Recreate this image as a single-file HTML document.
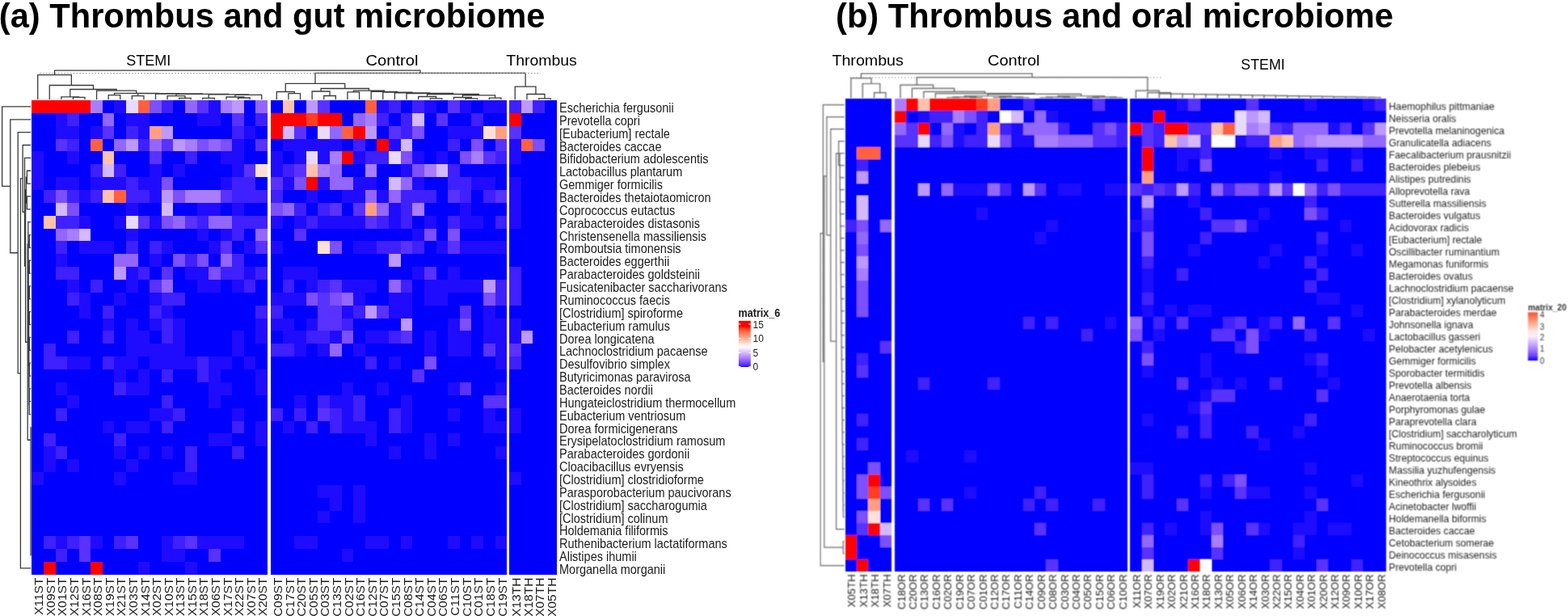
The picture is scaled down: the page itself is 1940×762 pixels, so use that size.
<!DOCTYPE html>
<html><head><meta charset="utf-8"><title>Thrombus and microbiome heatmaps</title>
<style>html,body{margin:0;padding:0;background:#fff;}svg{display:block;}</style></head>
<body>
<svg width="1940" height="762" viewBox="0 0 1940 762" font-family="'Liberation Sans', Arial, Helvetica, sans-serif">
<rect width="1940" height="762" fill="#fff"/>
<text x="-1.2" y="33.5" font-size="42.6" font-weight="700" fill="#000" textLength="675.5" lengthAdjust="spacingAndGlyphs">(a) Thrombus and gut microbiome</text>
<text x="1034.0" y="33.5" font-size="42.6" font-weight="700" fill="#000" textLength="690" lengthAdjust="spacingAndGlyphs">(b) Thrombus and oral microbiome</text>
<text x="156.3" y="81" font-size="19" fill="#000" textLength="55" lengthAdjust="spacingAndGlyphs">STEMI</text>
<text x="452.5" y="80.6" font-size="19" fill="#000" textLength="65" lengthAdjust="spacingAndGlyphs">Control</text>
<text x="626.3" y="80.6" font-size="19" fill="#000" textLength="87.5" lengthAdjust="spacingAndGlyphs">Thrombus</text>
<text x="1029.4" y="80.6" font-size="19" fill="#000" textLength="88.5" lengthAdjust="spacingAndGlyphs">Thrombus</text>
<text x="1222.0" y="80.6" font-size="19" fill="#000" textLength="64.5" lengthAdjust="spacingAndGlyphs">Control</text>
<text x="1535.3" y="86.3" font-size="19" fill="#000" textLength="54.5" lengthAdjust="spacingAndGlyphs">STEMI</text>
<g shape-rendering="crispEdges">
<rect x="39.40" y="124.00" width="291.60" height="586.82" fill="#0000ff"/>
<rect x="39.40" y="124.00" width="14.58" height="15.86" fill="#ff0000"/>
<rect x="53.98" y="124.00" width="14.58" height="15.86" fill="#ff0000"/>
<rect x="68.56" y="124.00" width="14.58" height="15.86" fill="#ff0000"/>
<rect x="83.14" y="124.00" width="14.58" height="15.86" fill="#ff0000"/>
<rect x="97.72" y="124.00" width="14.58" height="15.86" fill="#ff0000"/>
<rect x="112.30" y="124.00" width="14.58" height="15.86" fill="#a87eff"/>
<rect x="141.46" y="124.00" width="14.58" height="15.86" fill="#1f0cff"/>
<rect x="156.04" y="124.00" width="14.58" height="15.86" fill="#e9d9ff"/>
<rect x="170.62" y="124.00" width="14.58" height="15.86" fill="#ff603f"/>
<rect x="185.20" y="124.00" width="14.58" height="15.86" fill="#7c4fff"/>
<rect x="199.78" y="124.00" width="14.58" height="15.86" fill="#3f20ff"/>
<rect x="228.94" y="124.00" width="14.58" height="15.86" fill="#9367ff"/>
<rect x="243.52" y="124.00" width="14.58" height="15.86" fill="#5932ff"/>
<rect x="258.10" y="124.00" width="14.58" height="15.86" fill="#1f0cff"/>
<rect x="272.68" y="124.00" width="14.58" height="15.86" fill="#a87eff"/>
<rect x="287.26" y="124.00" width="14.58" height="15.86" fill="#bd99ff"/>
<rect x="316.42" y="124.00" width="14.58" height="15.86" fill="#9367ff"/>
<rect x="68.56" y="139.86" width="14.58" height="15.86" fill="#1f0cff"/>
<rect x="83.14" y="139.86" width="14.58" height="15.86" fill="#3f20ff"/>
<rect x="126.88" y="139.86" width="14.58" height="15.86" fill="#9367ff"/>
<rect x="156.04" y="139.86" width="14.58" height="15.86" fill="#1f0cff"/>
<rect x="170.62" y="139.86" width="14.58" height="15.86" fill="#1f0cff"/>
<rect x="243.52" y="139.86" width="14.58" height="15.86" fill="#1f0cff"/>
<rect x="258.10" y="139.86" width="14.58" height="15.86" fill="#1f0cff"/>
<rect x="287.26" y="139.86" width="14.58" height="15.86" fill="#5932ff"/>
<rect x="316.42" y="139.86" width="14.58" height="15.86" fill="#3f20ff"/>
<rect x="68.56" y="155.72" width="14.58" height="15.86" fill="#1f0cff"/>
<rect x="83.14" y="155.72" width="14.58" height="15.86" fill="#1f0cff"/>
<rect x="112.30" y="155.72" width="14.58" height="15.86" fill="#1f0cff"/>
<rect x="126.88" y="155.72" width="14.58" height="15.86" fill="#5932ff"/>
<rect x="156.04" y="155.72" width="14.58" height="15.86" fill="#3f20ff"/>
<rect x="170.62" y="155.72" width="14.58" height="15.86" fill="#1f0cff"/>
<rect x="185.20" y="155.72" width="14.58" height="15.86" fill="#ff9e81"/>
<rect x="199.78" y="155.72" width="14.58" height="15.86" fill="#bd99ff"/>
<rect x="287.26" y="155.72" width="14.58" height="15.86" fill="#3f20ff"/>
<rect x="301.84" y="155.72" width="14.58" height="15.86" fill="#1f0cff"/>
<rect x="68.56" y="171.58" width="14.58" height="15.86" fill="#5932ff"/>
<rect x="83.14" y="171.58" width="14.58" height="15.86" fill="#3f20ff"/>
<rect x="112.30" y="171.58" width="14.58" height="15.86" fill="#ff603f"/>
<rect x="141.46" y="171.58" width="14.58" height="15.86" fill="#9367ff"/>
<rect x="156.04" y="171.58" width="14.58" height="15.86" fill="#bd99ff"/>
<rect x="170.62" y="171.58" width="14.58" height="15.86" fill="#3f20ff"/>
<rect x="185.20" y="171.58" width="14.58" height="15.86" fill="#9367ff"/>
<rect x="199.78" y="171.58" width="14.58" height="15.86" fill="#5932ff"/>
<rect x="214.36" y="171.58" width="14.58" height="15.86" fill="#bd99ff"/>
<rect x="228.94" y="171.58" width="14.58" height="15.86" fill="#a87eff"/>
<rect x="243.52" y="171.58" width="14.58" height="15.86" fill="#7c4fff"/>
<rect x="258.10" y="171.58" width="14.58" height="15.86" fill="#9367ff"/>
<rect x="272.68" y="171.58" width="14.58" height="15.86" fill="#7c4fff"/>
<rect x="287.26" y="171.58" width="14.58" height="15.86" fill="#1f0cff"/>
<rect x="316.42" y="171.58" width="14.58" height="15.86" fill="#5932ff"/>
<rect x="39.40" y="187.44" width="14.58" height="15.86" fill="#1f0cff"/>
<rect x="83.14" y="187.44" width="14.58" height="15.86" fill="#1f0cff"/>
<rect x="126.88" y="187.44" width="14.58" height="15.86" fill="#ffc2ad"/>
<rect x="185.20" y="187.44" width="14.58" height="15.86" fill="#5932ff"/>
<rect x="228.94" y="187.44" width="14.58" height="15.86" fill="#3f20ff"/>
<rect x="272.68" y="187.44" width="14.58" height="15.86" fill="#1f0cff"/>
<rect x="287.26" y="187.44" width="14.58" height="15.86" fill="#1f0cff"/>
<rect x="39.40" y="203.30" width="14.58" height="15.86" fill="#1f0cff"/>
<rect x="112.30" y="203.30" width="14.58" height="15.86" fill="#3f20ff"/>
<rect x="126.88" y="203.30" width="14.58" height="15.86" fill="#d4b9ff"/>
<rect x="141.46" y="203.30" width="14.58" height="15.86" fill="#3f20ff"/>
<rect x="185.20" y="203.30" width="14.58" height="15.86" fill="#1f0cff"/>
<rect x="214.36" y="203.30" width="14.58" height="15.86" fill="#1f0cff"/>
<rect x="287.26" y="203.30" width="14.58" height="15.86" fill="#1f0cff"/>
<rect x="301.84" y="203.30" width="14.58" height="15.86" fill="#5932ff"/>
<rect x="316.42" y="203.30" width="14.58" height="15.86" fill="#ffe0d6"/>
<rect x="39.40" y="219.16" width="14.58" height="15.86" fill="#1f0cff"/>
<rect x="68.56" y="219.16" width="14.58" height="15.86" fill="#1f0cff"/>
<rect x="83.14" y="219.16" width="14.58" height="15.86" fill="#1f0cff"/>
<rect x="112.30" y="219.16" width="14.58" height="15.86" fill="#1f0cff"/>
<rect x="126.88" y="219.16" width="14.58" height="15.86" fill="#1f0cff"/>
<rect x="141.46" y="219.16" width="14.58" height="15.86" fill="#1f0cff"/>
<rect x="156.04" y="219.16" width="14.58" height="15.86" fill="#3f20ff"/>
<rect x="170.62" y="219.16" width="14.58" height="15.86" fill="#1f0cff"/>
<rect x="185.20" y="219.16" width="14.58" height="15.86" fill="#1f0cff"/>
<rect x="199.78" y="219.16" width="14.58" height="15.86" fill="#7c4fff"/>
<rect x="272.68" y="219.16" width="14.58" height="15.86" fill="#1f0cff"/>
<rect x="287.26" y="219.16" width="14.58" height="15.86" fill="#3f20ff"/>
<rect x="301.84" y="219.16" width="14.58" height="15.86" fill="#3f20ff"/>
<rect x="53.98" y="235.02" width="14.58" height="15.86" fill="#3f20ff"/>
<rect x="68.56" y="235.02" width="14.58" height="15.86" fill="#7c4fff"/>
<rect x="83.14" y="235.02" width="14.58" height="15.86" fill="#3f20ff"/>
<rect x="97.72" y="235.02" width="14.58" height="15.86" fill="#1f0cff"/>
<rect x="112.30" y="235.02" width="14.58" height="15.86" fill="#3f20ff"/>
<rect x="126.88" y="235.02" width="14.58" height="15.86" fill="#ffc2ad"/>
<rect x="141.46" y="235.02" width="14.58" height="15.86" fill="#ff603f"/>
<rect x="156.04" y="235.02" width="14.58" height="15.86" fill="#3f20ff"/>
<rect x="170.62" y="235.02" width="14.58" height="15.86" fill="#3f20ff"/>
<rect x="185.20" y="235.02" width="14.58" height="15.86" fill="#1f0cff"/>
<rect x="199.78" y="235.02" width="14.58" height="15.86" fill="#bd99ff"/>
<rect x="214.36" y="235.02" width="14.58" height="15.86" fill="#7c4fff"/>
<rect x="228.94" y="235.02" width="14.58" height="15.86" fill="#a87eff"/>
<rect x="243.52" y="235.02" width="14.58" height="15.86" fill="#a87eff"/>
<rect x="258.10" y="235.02" width="14.58" height="15.86" fill="#a87eff"/>
<rect x="272.68" y="235.02" width="14.58" height="15.86" fill="#5932ff"/>
<rect x="287.26" y="235.02" width="14.58" height="15.86" fill="#3f20ff"/>
<rect x="301.84" y="235.02" width="14.58" height="15.86" fill="#3f20ff"/>
<rect x="316.42" y="235.02" width="14.58" height="15.86" fill="#3f20ff"/>
<rect x="68.56" y="250.88" width="14.58" height="15.86" fill="#d4b9ff"/>
<rect x="83.14" y="250.88" width="14.58" height="15.86" fill="#7c4fff"/>
<rect x="156.04" y="250.88" width="14.58" height="15.86" fill="#1f0cff"/>
<rect x="199.78" y="250.88" width="14.58" height="15.86" fill="#d4b9ff"/>
<rect x="243.52" y="250.88" width="14.58" height="15.86" fill="#1f0cff"/>
<rect x="258.10" y="250.88" width="14.58" height="15.86" fill="#1f0cff"/>
<rect x="287.26" y="250.88" width="14.58" height="15.86" fill="#1f0cff"/>
<rect x="53.98" y="266.74" width="14.58" height="15.86" fill="#ffc2ad"/>
<rect x="68.56" y="266.74" width="14.58" height="15.86" fill="#3f20ff"/>
<rect x="83.14" y="266.74" width="14.58" height="15.86" fill="#3f20ff"/>
<rect x="97.72" y="266.74" width="14.58" height="15.86" fill="#1f0cff"/>
<rect x="141.46" y="266.74" width="14.58" height="15.86" fill="#1f0cff"/>
<rect x="156.04" y="266.74" width="14.58" height="15.86" fill="#e9d9ff"/>
<rect x="170.62" y="266.74" width="14.58" height="15.86" fill="#5932ff"/>
<rect x="185.20" y="266.74" width="14.58" height="15.86" fill="#1f0cff"/>
<rect x="199.78" y="266.74" width="14.58" height="15.86" fill="#7c4fff"/>
<rect x="214.36" y="266.74" width="14.58" height="15.86" fill="#9367ff"/>
<rect x="228.94" y="266.74" width="14.58" height="15.86" fill="#5932ff"/>
<rect x="243.52" y="266.74" width="14.58" height="15.86" fill="#3f20ff"/>
<rect x="258.10" y="266.74" width="14.58" height="15.86" fill="#9367ff"/>
<rect x="272.68" y="266.74" width="14.58" height="15.86" fill="#9367ff"/>
<rect x="287.26" y="266.74" width="14.58" height="15.86" fill="#3f20ff"/>
<rect x="301.84" y="266.74" width="14.58" height="15.86" fill="#3f20ff"/>
<rect x="316.42" y="266.74" width="14.58" height="15.86" fill="#3f20ff"/>
<rect x="68.56" y="282.60" width="14.58" height="15.86" fill="#9367ff"/>
<rect x="83.14" y="282.60" width="14.58" height="15.86" fill="#a87eff"/>
<rect x="97.72" y="282.60" width="14.58" height="15.86" fill="#d4b9ff"/>
<rect x="156.04" y="282.60" width="14.58" height="15.86" fill="#1f0cff"/>
<rect x="243.52" y="282.60" width="14.58" height="15.86" fill="#1f0cff"/>
<rect x="272.68" y="282.60" width="14.58" height="15.86" fill="#1f0cff"/>
<rect x="287.26" y="282.60" width="14.58" height="15.86" fill="#3f20ff"/>
<rect x="316.42" y="282.60" width="14.58" height="15.86" fill="#9367ff"/>
<rect x="68.56" y="298.46" width="14.58" height="15.86" fill="#3f20ff"/>
<rect x="97.72" y="298.46" width="14.58" height="15.86" fill="#1f0cff"/>
<rect x="112.30" y="298.46" width="14.58" height="15.86" fill="#1f0cff"/>
<rect x="126.88" y="298.46" width="14.58" height="15.86" fill="#1f0cff"/>
<rect x="156.04" y="298.46" width="14.58" height="15.86" fill="#3f20ff"/>
<rect x="185.20" y="298.46" width="14.58" height="15.86" fill="#3f20ff"/>
<rect x="199.78" y="298.46" width="14.58" height="15.86" fill="#1f0cff"/>
<rect x="258.10" y="298.46" width="14.58" height="15.86" fill="#1f0cff"/>
<rect x="272.68" y="298.46" width="14.58" height="15.86" fill="#5932ff"/>
<rect x="301.84" y="298.46" width="14.58" height="15.86" fill="#1f0cff"/>
<rect x="316.42" y="298.46" width="14.58" height="15.86" fill="#5932ff"/>
<rect x="68.56" y="314.32" width="14.58" height="15.86" fill="#1f0cff"/>
<rect x="141.46" y="314.32" width="14.58" height="15.86" fill="#9367ff"/>
<rect x="156.04" y="314.32" width="14.58" height="15.86" fill="#9367ff"/>
<rect x="185.20" y="314.32" width="14.58" height="15.86" fill="#1f0cff"/>
<rect x="214.36" y="314.32" width="14.58" height="15.86" fill="#7c4fff"/>
<rect x="228.94" y="314.32" width="14.58" height="15.86" fill="#3f20ff"/>
<rect x="243.52" y="314.32" width="14.58" height="15.86" fill="#7c4fff"/>
<rect x="272.68" y="314.32" width="14.58" height="15.86" fill="#9367ff"/>
<rect x="287.26" y="314.32" width="14.58" height="15.86" fill="#3f20ff"/>
<rect x="68.56" y="330.18" width="14.58" height="15.86" fill="#3f20ff"/>
<rect x="83.14" y="330.18" width="14.58" height="15.86" fill="#3f20ff"/>
<rect x="141.46" y="330.18" width="14.58" height="15.86" fill="#bd99ff"/>
<rect x="156.04" y="330.18" width="14.58" height="15.86" fill="#1f0cff"/>
<rect x="170.62" y="330.18" width="14.58" height="15.86" fill="#3f20ff"/>
<rect x="199.78" y="330.18" width="14.58" height="15.86" fill="#5932ff"/>
<rect x="228.94" y="330.18" width="14.58" height="15.86" fill="#1f0cff"/>
<rect x="243.52" y="330.18" width="14.58" height="15.86" fill="#1f0cff"/>
<rect x="258.10" y="330.18" width="14.58" height="15.86" fill="#7c4fff"/>
<rect x="272.68" y="330.18" width="14.58" height="15.86" fill="#3f20ff"/>
<rect x="287.26" y="330.18" width="14.58" height="15.86" fill="#3f20ff"/>
<rect x="301.84" y="330.18" width="14.58" height="15.86" fill="#1f0cff"/>
<rect x="316.42" y="330.18" width="14.58" height="15.86" fill="#3f20ff"/>
<rect x="83.14" y="346.04" width="14.58" height="15.86" fill="#1f0cff"/>
<rect x="112.30" y="346.04" width="14.58" height="15.86" fill="#3f20ff"/>
<rect x="156.04" y="346.04" width="14.58" height="15.86" fill="#1f0cff"/>
<rect x="185.20" y="346.04" width="14.58" height="15.86" fill="#5932ff"/>
<rect x="199.78" y="346.04" width="14.58" height="15.86" fill="#9367ff"/>
<rect x="243.52" y="346.04" width="14.58" height="15.86" fill="#1f0cff"/>
<rect x="258.10" y="346.04" width="14.58" height="15.86" fill="#1f0cff"/>
<rect x="287.26" y="346.04" width="14.58" height="15.86" fill="#1f0cff"/>
<rect x="301.84" y="346.04" width="14.58" height="15.86" fill="#3f20ff"/>
<rect x="83.14" y="361.90" width="14.58" height="15.86" fill="#3f20ff"/>
<rect x="97.72" y="361.90" width="14.58" height="15.86" fill="#1f0cff"/>
<rect x="141.46" y="361.90" width="14.58" height="15.86" fill="#1f0cff"/>
<rect x="185.20" y="361.90" width="14.58" height="15.86" fill="#1f0cff"/>
<rect x="199.78" y="361.90" width="14.58" height="15.86" fill="#3f20ff"/>
<rect x="214.36" y="361.90" width="14.58" height="15.86" fill="#3f20ff"/>
<rect x="97.72" y="377.76" width="14.58" height="15.86" fill="#1f0cff"/>
<rect x="126.88" y="377.76" width="14.58" height="15.86" fill="#3f20ff"/>
<rect x="185.20" y="377.76" width="14.58" height="15.86" fill="#3f20ff"/>
<rect x="199.78" y="377.76" width="14.58" height="15.86" fill="#1f0cff"/>
<rect x="316.42" y="377.76" width="14.58" height="15.86" fill="#3f20ff"/>
<rect x="126.88" y="393.62" width="14.58" height="15.86" fill="#1f0cff"/>
<rect x="156.04" y="393.62" width="14.58" height="15.86" fill="#1f0cff"/>
<rect x="185.20" y="393.62" width="14.58" height="15.86" fill="#1f0cff"/>
<rect x="199.78" y="393.62" width="14.58" height="15.86" fill="#3f20ff"/>
<rect x="214.36" y="393.62" width="14.58" height="15.86" fill="#1f0cff"/>
<rect x="316.42" y="393.62" width="14.58" height="15.86" fill="#1f0cff"/>
<rect x="83.14" y="409.48" width="14.58" height="15.86" fill="#3f20ff"/>
<rect x="126.88" y="409.48" width="14.58" height="15.86" fill="#3f20ff"/>
<rect x="156.04" y="409.48" width="14.58" height="15.86" fill="#1f0cff"/>
<rect x="170.62" y="409.48" width="14.58" height="15.86" fill="#1f0cff"/>
<rect x="199.78" y="409.48" width="14.58" height="15.86" fill="#3f20ff"/>
<rect x="214.36" y="409.48" width="14.58" height="15.86" fill="#1f0cff"/>
<rect x="287.26" y="409.48" width="14.58" height="15.86" fill="#1f0cff"/>
<rect x="316.42" y="409.48" width="14.58" height="15.86" fill="#1f0cff"/>
<rect x="53.98" y="425.34" width="14.58" height="15.86" fill="#3f20ff"/>
<rect x="156.04" y="425.34" width="14.58" height="15.86" fill="#1f0cff"/>
<rect x="170.62" y="425.34" width="14.58" height="15.86" fill="#1f0cff"/>
<rect x="185.20" y="425.34" width="14.58" height="15.86" fill="#1f0cff"/>
<rect x="199.78" y="425.34" width="14.58" height="15.86" fill="#1f0cff"/>
<rect x="214.36" y="425.34" width="14.58" height="15.86" fill="#1f0cff"/>
<rect x="287.26" y="425.34" width="14.58" height="15.86" fill="#1f0cff"/>
<rect x="53.98" y="441.20" width="14.58" height="15.86" fill="#3f20ff"/>
<rect x="68.56" y="441.20" width="14.58" height="15.86" fill="#3f20ff"/>
<rect x="83.14" y="441.20" width="14.58" height="15.86" fill="#1f0cff"/>
<rect x="97.72" y="441.20" width="14.58" height="15.86" fill="#1f0cff"/>
<rect x="126.88" y="441.20" width="14.58" height="15.86" fill="#3f20ff"/>
<rect x="141.46" y="441.20" width="14.58" height="15.86" fill="#1f0cff"/>
<rect x="156.04" y="441.20" width="14.58" height="15.86" fill="#1f0cff"/>
<rect x="185.20" y="441.20" width="14.58" height="15.86" fill="#1f0cff"/>
<rect x="199.78" y="441.20" width="14.58" height="15.86" fill="#1f0cff"/>
<rect x="214.36" y="441.20" width="14.58" height="15.86" fill="#1f0cff"/>
<rect x="228.94" y="441.20" width="14.58" height="15.86" fill="#1f0cff"/>
<rect x="243.52" y="441.20" width="14.58" height="15.86" fill="#3f20ff"/>
<rect x="258.10" y="441.20" width="14.58" height="15.86" fill="#1f0cff"/>
<rect x="272.68" y="441.20" width="14.58" height="15.86" fill="#1f0cff"/>
<rect x="301.84" y="441.20" width="14.58" height="15.86" fill="#1f0cff"/>
<rect x="141.46" y="457.06" width="14.58" height="15.86" fill="#1f0cff"/>
<rect x="170.62" y="457.06" width="14.58" height="15.86" fill="#1f0cff"/>
<rect x="199.78" y="457.06" width="14.58" height="15.86" fill="#3f20ff"/>
<rect x="243.52" y="457.06" width="14.58" height="15.86" fill="#3f20ff"/>
<rect x="258.10" y="457.06" width="14.58" height="15.86" fill="#1f0cff"/>
<rect x="316.42" y="457.06" width="14.58" height="15.86" fill="#1f0cff"/>
<rect x="68.56" y="472.92" width="14.58" height="15.86" fill="#1f0cff"/>
<rect x="141.46" y="472.92" width="14.58" height="15.86" fill="#3f20ff"/>
<rect x="156.04" y="472.92" width="14.58" height="15.86" fill="#1f0cff"/>
<rect x="170.62" y="472.92" width="14.58" height="15.86" fill="#1f0cff"/>
<rect x="258.10" y="472.92" width="14.58" height="15.86" fill="#1f0cff"/>
<rect x="272.68" y="472.92" width="14.58" height="15.86" fill="#1f0cff"/>
<rect x="316.42" y="472.92" width="14.58" height="15.86" fill="#1f0cff"/>
<rect x="83.14" y="488.78" width="14.58" height="15.86" fill="#1f0cff"/>
<rect x="199.78" y="488.78" width="14.58" height="15.86" fill="#3f20ff"/>
<rect x="258.10" y="488.78" width="14.58" height="15.86" fill="#1f0cff"/>
<rect x="68.56" y="504.64" width="14.58" height="15.86" fill="#3f20ff"/>
<rect x="185.20" y="504.64" width="14.58" height="15.86" fill="#1f0cff"/>
<rect x="199.78" y="504.64" width="14.58" height="15.86" fill="#1f0cff"/>
<rect x="214.36" y="504.64" width="14.58" height="15.86" fill="#3f20ff"/>
<rect x="287.26" y="504.64" width="14.58" height="15.86" fill="#1f0cff"/>
<rect x="126.88" y="520.50" width="14.58" height="15.86" fill="#1f0cff"/>
<rect x="156.04" y="520.50" width="14.58" height="15.86" fill="#1f0cff"/>
<rect x="170.62" y="520.50" width="14.58" height="15.86" fill="#1f0cff"/>
<rect x="199.78" y="520.50" width="14.58" height="15.86" fill="#3f20ff"/>
<rect x="287.26" y="520.50" width="14.58" height="15.86" fill="#3f20ff"/>
<rect x="316.42" y="520.50" width="14.58" height="15.86" fill="#1f0cff"/>
<rect x="53.98" y="536.36" width="14.58" height="15.86" fill="#3f20ff"/>
<rect x="141.46" y="536.36" width="14.58" height="15.86" fill="#3f20ff"/>
<rect x="258.10" y="536.36" width="14.58" height="15.86" fill="#1f0cff"/>
<rect x="272.68" y="536.36" width="14.58" height="15.86" fill="#1f0cff"/>
<rect x="316.42" y="536.36" width="14.58" height="15.86" fill="#1f0cff"/>
<rect x="53.98" y="552.22" width="14.58" height="15.86" fill="#1f0cff"/>
<rect x="68.56" y="552.22" width="14.58" height="15.86" fill="#3f20ff"/>
<rect x="141.46" y="552.22" width="14.58" height="15.86" fill="#1f0cff"/>
<rect x="170.62" y="552.22" width="14.58" height="15.86" fill="#1f0cff"/>
<rect x="199.78" y="552.22" width="14.58" height="15.86" fill="#1f0cff"/>
<rect x="228.94" y="552.22" width="14.58" height="15.86" fill="#3f20ff"/>
<rect x="287.26" y="552.22" width="14.58" height="15.86" fill="#3f20ff"/>
<rect x="53.98" y="568.08" width="14.58" height="15.86" fill="#1f0cff"/>
<rect x="83.14" y="568.08" width="14.58" height="15.86" fill="#1f0cff"/>
<rect x="156.04" y="568.08" width="14.58" height="15.86" fill="#1f0cff"/>
<rect x="228.94" y="568.08" width="14.58" height="15.86" fill="#3f20ff"/>
<rect x="39.40" y="583.94" width="14.58" height="15.86" fill="#1f0cff"/>
<rect x="141.46" y="583.94" width="14.58" height="15.86" fill="#1f0cff"/>
<rect x="214.36" y="583.94" width="14.58" height="15.86" fill="#1f0cff"/>
<rect x="228.94" y="583.94" width="14.58" height="15.86" fill="#1f0cff"/>
<rect x="53.98" y="663.24" width="14.58" height="15.86" fill="#3f20ff"/>
<rect x="68.56" y="663.24" width="14.58" height="15.86" fill="#1f0cff"/>
<rect x="83.14" y="663.24" width="14.58" height="15.86" fill="#3f20ff"/>
<rect x="97.72" y="663.24" width="14.58" height="15.86" fill="#5932ff"/>
<rect x="112.30" y="663.24" width="14.58" height="15.86" fill="#1f0cff"/>
<rect x="141.46" y="663.24" width="14.58" height="15.86" fill="#3f20ff"/>
<rect x="156.04" y="663.24" width="14.58" height="15.86" fill="#5932ff"/>
<rect x="199.78" y="663.24" width="14.58" height="15.86" fill="#1f0cff"/>
<rect x="214.36" y="663.24" width="14.58" height="15.86" fill="#3f20ff"/>
<rect x="228.94" y="663.24" width="14.58" height="15.86" fill="#5932ff"/>
<rect x="243.52" y="663.24" width="14.58" height="15.86" fill="#1f0cff"/>
<rect x="258.10" y="663.24" width="14.58" height="15.86" fill="#1f0cff"/>
<rect x="272.68" y="663.24" width="14.58" height="15.86" fill="#1f0cff"/>
<rect x="287.26" y="663.24" width="14.58" height="15.86" fill="#1f0cff"/>
<rect x="68.56" y="679.10" width="14.58" height="15.86" fill="#3f20ff"/>
<rect x="97.72" y="679.10" width="14.58" height="15.86" fill="#5932ff"/>
<rect x="199.78" y="679.10" width="14.58" height="15.86" fill="#1f0cff"/>
<rect x="214.36" y="679.10" width="14.58" height="15.86" fill="#1f0cff"/>
<rect x="258.10" y="679.10" width="14.58" height="15.86" fill="#5932ff"/>
<rect x="53.98" y="694.96" width="14.58" height="15.86" fill="#ff0000"/>
<rect x="112.30" y="694.96" width="14.58" height="15.86" fill="#ff0000"/>
<rect x="170.62" y="694.96" width="14.58" height="15.86" fill="#1f0cff"/>
<rect x="228.94" y="694.96" width="14.58" height="15.86" fill="#1f0cff"/>
<rect x="335.00" y="124.00" width="292.20" height="586.82" fill="#0000ff"/>
<rect x="349.61" y="124.00" width="14.61" height="15.86" fill="#ffc2ad"/>
<rect x="378.83" y="124.00" width="14.61" height="15.86" fill="#bd99ff"/>
<rect x="393.44" y="124.00" width="14.61" height="15.86" fill="#5932ff"/>
<rect x="451.88" y="124.00" width="14.61" height="15.86" fill="#ff603f"/>
<rect x="466.49" y="124.00" width="14.61" height="15.86" fill="#1f0cff"/>
<rect x="481.10" y="124.00" width="14.61" height="15.86" fill="#3f20ff"/>
<rect x="510.32" y="124.00" width="14.61" height="15.86" fill="#3f20ff"/>
<rect x="524.93" y="124.00" width="14.61" height="15.86" fill="#1f0cff"/>
<rect x="554.15" y="124.00" width="14.61" height="15.86" fill="#5932ff"/>
<rect x="568.76" y="124.00" width="14.61" height="15.86" fill="#1f0cff"/>
<rect x="597.98" y="124.00" width="14.61" height="15.86" fill="#1f0cff"/>
<rect x="612.59" y="124.00" width="14.61" height="15.86" fill="#1f0cff"/>
<rect x="335.00" y="139.86" width="14.61" height="15.86" fill="#ff0000"/>
<rect x="349.61" y="139.86" width="14.61" height="15.86" fill="#ff0000"/>
<rect x="364.22" y="139.86" width="14.61" height="15.86" fill="#ff0000"/>
<rect x="378.83" y="139.86" width="14.61" height="15.86" fill="#ff3e22"/>
<rect x="393.44" y="139.86" width="14.61" height="15.86" fill="#ff0000"/>
<rect x="408.05" y="139.86" width="14.61" height="15.86" fill="#ff0000"/>
<rect x="437.27" y="139.86" width="14.61" height="15.86" fill="#9367ff"/>
<rect x="451.88" y="139.86" width="14.61" height="15.86" fill="#a87eff"/>
<rect x="466.49" y="139.86" width="14.61" height="15.86" fill="#3f20ff"/>
<rect x="495.71" y="139.86" width="14.61" height="15.86" fill="#3f20ff"/>
<rect x="510.32" y="139.86" width="14.61" height="15.86" fill="#d4b9ff"/>
<rect x="539.54" y="139.86" width="14.61" height="15.86" fill="#5932ff"/>
<rect x="583.37" y="139.86" width="14.61" height="15.86" fill="#3f20ff"/>
<rect x="335.00" y="155.72" width="14.61" height="15.86" fill="#ff0000"/>
<rect x="349.61" y="155.72" width="14.61" height="15.86" fill="#d4b9ff"/>
<rect x="364.22" y="155.72" width="14.61" height="15.86" fill="#5932ff"/>
<rect x="393.44" y="155.72" width="14.61" height="15.86" fill="#e9d9ff"/>
<rect x="408.05" y="155.72" width="14.61" height="15.86" fill="#9367ff"/>
<rect x="422.66" y="155.72" width="14.61" height="15.86" fill="#ff603f"/>
<rect x="437.27" y="155.72" width="14.61" height="15.86" fill="#ff0000"/>
<rect x="451.88" y="155.72" width="14.61" height="15.86" fill="#bd99ff"/>
<rect x="481.10" y="155.72" width="14.61" height="15.86" fill="#5932ff"/>
<rect x="495.71" y="155.72" width="14.61" height="15.86" fill="#3f20ff"/>
<rect x="510.32" y="155.72" width="14.61" height="15.86" fill="#7c4fff"/>
<rect x="554.15" y="155.72" width="14.61" height="15.86" fill="#1f0cff"/>
<rect x="568.76" y="155.72" width="14.61" height="15.86" fill="#1f0cff"/>
<rect x="583.37" y="155.72" width="14.61" height="15.86" fill="#1f0cff"/>
<rect x="597.98" y="155.72" width="14.61" height="15.86" fill="#ffe0d6"/>
<rect x="612.59" y="155.72" width="14.61" height="15.86" fill="#ff9e81"/>
<rect x="349.61" y="171.58" width="14.61" height="15.86" fill="#1f0cff"/>
<rect x="364.22" y="171.58" width="14.61" height="15.86" fill="#1f0cff"/>
<rect x="378.83" y="171.58" width="14.61" height="15.86" fill="#1f0cff"/>
<rect x="393.44" y="171.58" width="14.61" height="15.86" fill="#1f0cff"/>
<rect x="408.05" y="171.58" width="14.61" height="15.86" fill="#1f0cff"/>
<rect x="437.27" y="171.58" width="14.61" height="15.86" fill="#3f20ff"/>
<rect x="466.49" y="171.58" width="14.61" height="15.86" fill="#ff0000"/>
<rect x="481.10" y="171.58" width="14.61" height="15.86" fill="#1f0cff"/>
<rect x="495.71" y="171.58" width="14.61" height="15.86" fill="#d4b9ff"/>
<rect x="554.15" y="171.58" width="14.61" height="15.86" fill="#3f20ff"/>
<rect x="583.37" y="171.58" width="14.61" height="15.86" fill="#7c4fff"/>
<rect x="612.59" y="171.58" width="14.61" height="15.86" fill="#5932ff"/>
<rect x="335.00" y="187.44" width="14.61" height="15.86" fill="#1f0cff"/>
<rect x="364.22" y="187.44" width="14.61" height="15.86" fill="#1f0cff"/>
<rect x="378.83" y="187.44" width="14.61" height="15.86" fill="#e9d9ff"/>
<rect x="393.44" y="187.44" width="14.61" height="15.86" fill="#1f0cff"/>
<rect x="408.05" y="187.44" width="14.61" height="15.86" fill="#a87eff"/>
<rect x="422.66" y="187.44" width="14.61" height="15.86" fill="#ff0000"/>
<rect x="437.27" y="187.44" width="14.61" height="15.86" fill="#1f0cff"/>
<rect x="451.88" y="187.44" width="14.61" height="15.86" fill="#3f20ff"/>
<rect x="466.49" y="187.44" width="14.61" height="15.86" fill="#3f20ff"/>
<rect x="481.10" y="187.44" width="14.61" height="15.86" fill="#e9d9ff"/>
<rect x="495.71" y="187.44" width="14.61" height="15.86" fill="#7c4fff"/>
<rect x="510.32" y="187.44" width="14.61" height="15.86" fill="#1f0cff"/>
<rect x="539.54" y="187.44" width="14.61" height="15.86" fill="#1f0cff"/>
<rect x="568.76" y="187.44" width="14.61" height="15.86" fill="#7c4fff"/>
<rect x="583.37" y="187.44" width="14.61" height="15.86" fill="#a87eff"/>
<rect x="597.98" y="187.44" width="14.61" height="15.86" fill="#5932ff"/>
<rect x="612.59" y="187.44" width="14.61" height="15.86" fill="#3f20ff"/>
<rect x="335.00" y="203.30" width="14.61" height="15.86" fill="#1f0cff"/>
<rect x="349.61" y="203.30" width="14.61" height="15.86" fill="#3f20ff"/>
<rect x="364.22" y="203.30" width="14.61" height="15.86" fill="#5932ff"/>
<rect x="378.83" y="203.30" width="14.61" height="15.86" fill="#ffc2ad"/>
<rect x="393.44" y="203.30" width="14.61" height="15.86" fill="#a87eff"/>
<rect x="408.05" y="203.30" width="14.61" height="15.86" fill="#9367ff"/>
<rect x="451.88" y="203.30" width="14.61" height="15.86" fill="#a87eff"/>
<rect x="495.71" y="203.30" width="14.61" height="15.86" fill="#1f0cff"/>
<rect x="510.32" y="203.30" width="14.61" height="15.86" fill="#7c4fff"/>
<rect x="524.93" y="203.30" width="14.61" height="15.86" fill="#a87eff"/>
<rect x="539.54" y="203.30" width="14.61" height="15.86" fill="#d4b9ff"/>
<rect x="554.15" y="203.30" width="14.61" height="15.86" fill="#3f20ff"/>
<rect x="335.00" y="219.16" width="14.61" height="15.86" fill="#5932ff"/>
<rect x="349.61" y="219.16" width="14.61" height="15.86" fill="#1f0cff"/>
<rect x="364.22" y="219.16" width="14.61" height="15.86" fill="#7c4fff"/>
<rect x="378.83" y="219.16" width="14.61" height="15.86" fill="#ff0000"/>
<rect x="393.44" y="219.16" width="14.61" height="15.86" fill="#1f0cff"/>
<rect x="408.05" y="219.16" width="14.61" height="15.86" fill="#9367ff"/>
<rect x="422.66" y="219.16" width="14.61" height="15.86" fill="#9367ff"/>
<rect x="437.27" y="219.16" width="14.61" height="15.86" fill="#1f0cff"/>
<rect x="451.88" y="219.16" width="14.61" height="15.86" fill="#1f0cff"/>
<rect x="481.10" y="219.16" width="14.61" height="15.86" fill="#d4b9ff"/>
<rect x="495.71" y="219.16" width="14.61" height="15.86" fill="#9367ff"/>
<rect x="510.32" y="219.16" width="14.61" height="15.86" fill="#1f0cff"/>
<rect x="554.15" y="219.16" width="14.61" height="15.86" fill="#3f20ff"/>
<rect x="568.76" y="219.16" width="14.61" height="15.86" fill="#3f20ff"/>
<rect x="583.37" y="219.16" width="14.61" height="15.86" fill="#1f0cff"/>
<rect x="597.98" y="219.16" width="14.61" height="15.86" fill="#1f0cff"/>
<rect x="335.00" y="235.02" width="14.61" height="15.86" fill="#3f20ff"/>
<rect x="378.83" y="235.02" width="14.61" height="15.86" fill="#1f0cff"/>
<rect x="422.66" y="235.02" width="14.61" height="15.86" fill="#1f0cff"/>
<rect x="437.27" y="235.02" width="14.61" height="15.86" fill="#1f0cff"/>
<rect x="451.88" y="235.02" width="14.61" height="15.86" fill="#9367ff"/>
<rect x="466.49" y="235.02" width="14.61" height="15.86" fill="#1f0cff"/>
<rect x="481.10" y="235.02" width="14.61" height="15.86" fill="#9367ff"/>
<rect x="495.71" y="235.02" width="14.61" height="15.86" fill="#3f20ff"/>
<rect x="510.32" y="235.02" width="14.61" height="15.86" fill="#3f20ff"/>
<rect x="524.93" y="235.02" width="14.61" height="15.86" fill="#3f20ff"/>
<rect x="554.15" y="235.02" width="14.61" height="15.86" fill="#5932ff"/>
<rect x="568.76" y="235.02" width="14.61" height="15.86" fill="#3f20ff"/>
<rect x="597.98" y="235.02" width="14.61" height="15.86" fill="#3f20ff"/>
<rect x="612.59" y="235.02" width="14.61" height="15.86" fill="#5932ff"/>
<rect x="335.00" y="250.88" width="14.61" height="15.86" fill="#7c4fff"/>
<rect x="349.61" y="250.88" width="14.61" height="15.86" fill="#9367ff"/>
<rect x="364.22" y="250.88" width="14.61" height="15.86" fill="#3f20ff"/>
<rect x="393.44" y="250.88" width="14.61" height="15.86" fill="#3f20ff"/>
<rect x="408.05" y="250.88" width="14.61" height="15.86" fill="#5932ff"/>
<rect x="437.27" y="250.88" width="14.61" height="15.86" fill="#5932ff"/>
<rect x="451.88" y="250.88" width="14.61" height="15.86" fill="#ff9e81"/>
<rect x="466.49" y="250.88" width="14.61" height="15.86" fill="#9367ff"/>
<rect x="481.10" y="250.88" width="14.61" height="15.86" fill="#1f0cff"/>
<rect x="495.71" y="250.88" width="14.61" height="15.86" fill="#3f20ff"/>
<rect x="510.32" y="250.88" width="14.61" height="15.86" fill="#a87eff"/>
<rect x="568.76" y="250.88" width="14.61" height="15.86" fill="#1f0cff"/>
<rect x="335.00" y="266.74" width="14.61" height="15.86" fill="#1f0cff"/>
<rect x="364.22" y="266.74" width="14.61" height="15.86" fill="#1f0cff"/>
<rect x="378.83" y="266.74" width="14.61" height="15.86" fill="#3f20ff"/>
<rect x="393.44" y="266.74" width="14.61" height="15.86" fill="#1f0cff"/>
<rect x="408.05" y="266.74" width="14.61" height="15.86" fill="#1f0cff"/>
<rect x="422.66" y="266.74" width="14.61" height="15.86" fill="#1f0cff"/>
<rect x="437.27" y="266.74" width="14.61" height="15.86" fill="#1f0cff"/>
<rect x="451.88" y="266.74" width="14.61" height="15.86" fill="#5932ff"/>
<rect x="466.49" y="266.74" width="14.61" height="15.86" fill="#3f20ff"/>
<rect x="481.10" y="266.74" width="14.61" height="15.86" fill="#1f0cff"/>
<rect x="495.71" y="266.74" width="14.61" height="15.86" fill="#3f20ff"/>
<rect x="524.93" y="266.74" width="14.61" height="15.86" fill="#1f0cff"/>
<rect x="554.15" y="266.74" width="14.61" height="15.86" fill="#3f20ff"/>
<rect x="568.76" y="266.74" width="14.61" height="15.86" fill="#1f0cff"/>
<rect x="583.37" y="266.74" width="14.61" height="15.86" fill="#1f0cff"/>
<rect x="612.59" y="266.74" width="14.61" height="15.86" fill="#3f20ff"/>
<rect x="364.22" y="282.60" width="14.61" height="15.86" fill="#5932ff"/>
<rect x="510.32" y="282.60" width="14.61" height="15.86" fill="#1f0cff"/>
<rect x="524.93" y="282.60" width="14.61" height="15.86" fill="#7c4fff"/>
<rect x="554.15" y="282.60" width="14.61" height="15.86" fill="#7c4fff"/>
<rect x="335.00" y="298.46" width="14.61" height="15.86" fill="#1f0cff"/>
<rect x="393.44" y="298.46" width="14.61" height="15.86" fill="#ffe0d6"/>
<rect x="408.05" y="298.46" width="14.61" height="15.86" fill="#7c4fff"/>
<rect x="437.27" y="298.46" width="14.61" height="15.86" fill="#1f0cff"/>
<rect x="451.88" y="298.46" width="14.61" height="15.86" fill="#1f0cff"/>
<rect x="466.49" y="298.46" width="14.61" height="15.86" fill="#3f20ff"/>
<rect x="481.10" y="298.46" width="14.61" height="15.86" fill="#3f20ff"/>
<rect x="495.71" y="298.46" width="14.61" height="15.86" fill="#5932ff"/>
<rect x="510.32" y="298.46" width="14.61" height="15.86" fill="#3f20ff"/>
<rect x="539.54" y="298.46" width="14.61" height="15.86" fill="#1f0cff"/>
<rect x="554.15" y="298.46" width="14.61" height="15.86" fill="#5932ff"/>
<rect x="568.76" y="298.46" width="14.61" height="15.86" fill="#1f0cff"/>
<rect x="583.37" y="298.46" width="14.61" height="15.86" fill="#1f0cff"/>
<rect x="597.98" y="298.46" width="14.61" height="15.86" fill="#1f0cff"/>
<rect x="612.59" y="298.46" width="14.61" height="15.86" fill="#1f0cff"/>
<rect x="481.10" y="314.32" width="14.61" height="15.86" fill="#bd99ff"/>
<rect x="349.61" y="330.18" width="14.61" height="15.86" fill="#1f0cff"/>
<rect x="364.22" y="330.18" width="14.61" height="15.86" fill="#1f0cff"/>
<rect x="378.83" y="330.18" width="14.61" height="15.86" fill="#1f0cff"/>
<rect x="510.32" y="330.18" width="14.61" height="15.86" fill="#1f0cff"/>
<rect x="524.93" y="330.18" width="14.61" height="15.86" fill="#5932ff"/>
<rect x="554.15" y="330.18" width="14.61" height="15.86" fill="#1f0cff"/>
<rect x="349.61" y="346.04" width="14.61" height="15.86" fill="#3f20ff"/>
<rect x="378.83" y="346.04" width="14.61" height="15.86" fill="#1f0cff"/>
<rect x="393.44" y="346.04" width="14.61" height="15.86" fill="#3f20ff"/>
<rect x="408.05" y="346.04" width="14.61" height="15.86" fill="#5932ff"/>
<rect x="422.66" y="346.04" width="14.61" height="15.86" fill="#1f0cff"/>
<rect x="437.27" y="346.04" width="14.61" height="15.86" fill="#1f0cff"/>
<rect x="451.88" y="346.04" width="14.61" height="15.86" fill="#1f0cff"/>
<rect x="481.10" y="346.04" width="14.61" height="15.86" fill="#9367ff"/>
<rect x="495.71" y="346.04" width="14.61" height="15.86" fill="#3f20ff"/>
<rect x="524.93" y="346.04" width="14.61" height="15.86" fill="#1f0cff"/>
<rect x="539.54" y="346.04" width="14.61" height="15.86" fill="#1f0cff"/>
<rect x="554.15" y="346.04" width="14.61" height="15.86" fill="#1f0cff"/>
<rect x="568.76" y="346.04" width="14.61" height="15.86" fill="#1f0cff"/>
<rect x="583.37" y="346.04" width="14.61" height="15.86" fill="#1f0cff"/>
<rect x="597.98" y="346.04" width="14.61" height="15.86" fill="#bd99ff"/>
<rect x="612.59" y="346.04" width="14.61" height="15.86" fill="#3f20ff"/>
<rect x="335.00" y="361.90" width="14.61" height="15.86" fill="#1f0cff"/>
<rect x="349.61" y="361.90" width="14.61" height="15.86" fill="#1f0cff"/>
<rect x="364.22" y="361.90" width="14.61" height="15.86" fill="#1f0cff"/>
<rect x="378.83" y="361.90" width="14.61" height="15.86" fill="#7c4fff"/>
<rect x="393.44" y="361.90" width="14.61" height="15.86" fill="#5932ff"/>
<rect x="408.05" y="361.90" width="14.61" height="15.86" fill="#7c4fff"/>
<rect x="422.66" y="361.90" width="14.61" height="15.86" fill="#9367ff"/>
<rect x="437.27" y="361.90" width="14.61" height="15.86" fill="#1f0cff"/>
<rect x="481.10" y="361.90" width="14.61" height="15.86" fill="#1f0cff"/>
<rect x="495.71" y="361.90" width="14.61" height="15.86" fill="#1f0cff"/>
<rect x="524.93" y="361.90" width="14.61" height="15.86" fill="#1f0cff"/>
<rect x="539.54" y="361.90" width="14.61" height="15.86" fill="#1f0cff"/>
<rect x="597.98" y="361.90" width="14.61" height="15.86" fill="#7c4fff"/>
<rect x="612.59" y="361.90" width="14.61" height="15.86" fill="#3f20ff"/>
<rect x="335.00" y="377.76" width="14.61" height="15.86" fill="#3f20ff"/>
<rect x="393.44" y="377.76" width="14.61" height="15.86" fill="#5932ff"/>
<rect x="408.05" y="377.76" width="14.61" height="15.86" fill="#5932ff"/>
<rect x="422.66" y="377.76" width="14.61" height="15.86" fill="#1f0cff"/>
<rect x="437.27" y="377.76" width="14.61" height="15.86" fill="#3f20ff"/>
<rect x="451.88" y="377.76" width="14.61" height="15.86" fill="#bd99ff"/>
<rect x="466.49" y="377.76" width="14.61" height="15.86" fill="#5932ff"/>
<rect x="481.10" y="377.76" width="14.61" height="15.86" fill="#1f0cff"/>
<rect x="495.71" y="377.76" width="14.61" height="15.86" fill="#1f0cff"/>
<rect x="568.76" y="377.76" width="14.61" height="15.86" fill="#5932ff"/>
<rect x="597.98" y="377.76" width="14.61" height="15.86" fill="#1f0cff"/>
<rect x="335.00" y="393.62" width="14.61" height="15.86" fill="#1f0cff"/>
<rect x="349.61" y="393.62" width="14.61" height="15.86" fill="#1f0cff"/>
<rect x="378.83" y="393.62" width="14.61" height="15.86" fill="#1f0cff"/>
<rect x="393.44" y="393.62" width="14.61" height="15.86" fill="#5932ff"/>
<rect x="408.05" y="393.62" width="14.61" height="15.86" fill="#5932ff"/>
<rect x="422.66" y="393.62" width="14.61" height="15.86" fill="#3f20ff"/>
<rect x="495.71" y="393.62" width="14.61" height="15.86" fill="#bd99ff"/>
<rect x="554.15" y="393.62" width="14.61" height="15.86" fill="#1f0cff"/>
<rect x="568.76" y="393.62" width="14.61" height="15.86" fill="#7c4fff"/>
<rect x="597.98" y="393.62" width="14.61" height="15.86" fill="#1f0cff"/>
<rect x="612.59" y="393.62" width="14.61" height="15.86" fill="#1f0cff"/>
<rect x="349.61" y="409.48" width="14.61" height="15.86" fill="#1f0cff"/>
<rect x="364.22" y="409.48" width="14.61" height="15.86" fill="#1f0cff"/>
<rect x="378.83" y="409.48" width="14.61" height="15.86" fill="#3f20ff"/>
<rect x="393.44" y="409.48" width="14.61" height="15.86" fill="#3f20ff"/>
<rect x="408.05" y="409.48" width="14.61" height="15.86" fill="#1f0cff"/>
<rect x="422.66" y="409.48" width="14.61" height="15.86" fill="#7c4fff"/>
<rect x="451.88" y="409.48" width="14.61" height="15.86" fill="#1f0cff"/>
<rect x="466.49" y="409.48" width="14.61" height="15.86" fill="#1f0cff"/>
<rect x="481.10" y="409.48" width="14.61" height="15.86" fill="#3f20ff"/>
<rect x="495.71" y="409.48" width="14.61" height="15.86" fill="#5932ff"/>
<rect x="524.93" y="409.48" width="14.61" height="15.86" fill="#1f0cff"/>
<rect x="554.15" y="409.48" width="14.61" height="15.86" fill="#1f0cff"/>
<rect x="568.76" y="409.48" width="14.61" height="15.86" fill="#1f0cff"/>
<rect x="597.98" y="409.48" width="14.61" height="15.86" fill="#1f0cff"/>
<rect x="612.59" y="409.48" width="14.61" height="15.86" fill="#1f0cff"/>
<rect x="335.00" y="425.34" width="14.61" height="15.86" fill="#3f20ff"/>
<rect x="349.61" y="425.34" width="14.61" height="15.86" fill="#3f20ff"/>
<rect x="364.22" y="425.34" width="14.61" height="15.86" fill="#1f0cff"/>
<rect x="393.44" y="425.34" width="14.61" height="15.86" fill="#1f0cff"/>
<rect x="408.05" y="425.34" width="14.61" height="15.86" fill="#9367ff"/>
<rect x="437.27" y="425.34" width="14.61" height="15.86" fill="#1f0cff"/>
<rect x="524.93" y="425.34" width="14.61" height="15.86" fill="#1f0cff"/>
<rect x="554.15" y="425.34" width="14.61" height="15.86" fill="#1f0cff"/>
<rect x="568.76" y="425.34" width="14.61" height="15.86" fill="#1f0cff"/>
<rect x="597.98" y="425.34" width="14.61" height="15.86" fill="#5932ff"/>
<rect x="612.59" y="425.34" width="14.61" height="15.86" fill="#1f0cff"/>
<rect x="451.88" y="441.20" width="14.61" height="15.86" fill="#3f20ff"/>
<rect x="481.10" y="441.20" width="14.61" height="15.86" fill="#1f0cff"/>
<rect x="524.93" y="441.20" width="14.61" height="15.86" fill="#7c4fff"/>
<rect x="612.59" y="441.20" width="14.61" height="15.86" fill="#1f0cff"/>
<rect x="510.32" y="457.06" width="14.61" height="15.86" fill="#5932ff"/>
<rect x="422.66" y="472.92" width="14.61" height="15.86" fill="#1f0cff"/>
<rect x="466.49" y="472.92" width="14.61" height="15.86" fill="#1f0cff"/>
<rect x="554.15" y="472.92" width="14.61" height="15.86" fill="#1f0cff"/>
<rect x="568.76" y="472.92" width="14.61" height="15.86" fill="#5932ff"/>
<rect x="612.59" y="472.92" width="14.61" height="15.86" fill="#1f0cff"/>
<rect x="364.22" y="488.78" width="14.61" height="15.86" fill="#1f0cff"/>
<rect x="393.44" y="488.78" width="14.61" height="15.86" fill="#3f20ff"/>
<rect x="408.05" y="488.78" width="14.61" height="15.86" fill="#1f0cff"/>
<rect x="422.66" y="488.78" width="14.61" height="15.86" fill="#1f0cff"/>
<rect x="437.27" y="488.78" width="14.61" height="15.86" fill="#3f20ff"/>
<rect x="495.71" y="488.78" width="14.61" height="15.86" fill="#1f0cff"/>
<rect x="597.98" y="488.78" width="14.61" height="15.86" fill="#5932ff"/>
<rect x="612.59" y="488.78" width="14.61" height="15.86" fill="#5932ff"/>
<rect x="335.00" y="504.64" width="14.61" height="15.86" fill="#3f20ff"/>
<rect x="364.22" y="504.64" width="14.61" height="15.86" fill="#3f20ff"/>
<rect x="393.44" y="504.64" width="14.61" height="15.86" fill="#5932ff"/>
<rect x="408.05" y="504.64" width="14.61" height="15.86" fill="#3f20ff"/>
<rect x="422.66" y="504.64" width="14.61" height="15.86" fill="#1f0cff"/>
<rect x="437.27" y="504.64" width="14.61" height="15.86" fill="#3f20ff"/>
<rect x="481.10" y="504.64" width="14.61" height="15.86" fill="#3f20ff"/>
<rect x="495.71" y="504.64" width="14.61" height="15.86" fill="#1f0cff"/>
<rect x="554.15" y="504.64" width="14.61" height="15.86" fill="#1f0cff"/>
<rect x="597.98" y="504.64" width="14.61" height="15.86" fill="#1f0cff"/>
<rect x="349.61" y="520.50" width="14.61" height="15.86" fill="#1f0cff"/>
<rect x="378.83" y="520.50" width="14.61" height="15.86" fill="#3f20ff"/>
<rect x="408.05" y="520.50" width="14.61" height="15.86" fill="#3f20ff"/>
<rect x="422.66" y="520.50" width="14.61" height="15.86" fill="#1f0cff"/>
<rect x="437.27" y="520.50" width="14.61" height="15.86" fill="#1f0cff"/>
<rect x="451.88" y="520.50" width="14.61" height="15.86" fill="#1f0cff"/>
<rect x="481.10" y="520.50" width="14.61" height="15.86" fill="#3f20ff"/>
<rect x="495.71" y="520.50" width="14.61" height="15.86" fill="#1f0cff"/>
<rect x="597.98" y="520.50" width="14.61" height="15.86" fill="#1f0cff"/>
<rect x="612.59" y="520.50" width="14.61" height="15.86" fill="#1f0cff"/>
<rect x="451.88" y="536.36" width="14.61" height="15.86" fill="#1f0cff"/>
<rect x="524.93" y="536.36" width="14.61" height="15.86" fill="#1f0cff"/>
<rect x="554.15" y="536.36" width="14.61" height="15.86" fill="#1f0cff"/>
<rect x="481.10" y="552.22" width="14.61" height="15.86" fill="#1f0cff"/>
<rect x="524.93" y="552.22" width="14.61" height="15.86" fill="#1f0cff"/>
<rect x="612.59" y="552.22" width="14.61" height="15.86" fill="#1f0cff"/>
<rect x="393.44" y="599.80" width="14.61" height="15.86" fill="#1f0cff"/>
<rect x="408.05" y="599.80" width="14.61" height="15.86" fill="#1f0cff"/>
<rect x="437.27" y="599.80" width="14.61" height="15.86" fill="#1f0cff"/>
<rect x="408.05" y="615.66" width="14.61" height="15.86" fill="#1f0cff"/>
<rect x="437.27" y="615.66" width="14.61" height="15.86" fill="#1f0cff"/>
<rect x="393.44" y="631.52" width="14.61" height="15.86" fill="#1f0cff"/>
<rect x="437.27" y="631.52" width="14.61" height="15.86" fill="#1f0cff"/>
<rect x="364.22" y="663.24" width="14.61" height="15.86" fill="#1f0cff"/>
<rect x="378.83" y="663.24" width="14.61" height="15.86" fill="#1f0cff"/>
<rect x="451.88" y="663.24" width="14.61" height="15.86" fill="#1f0cff"/>
<rect x="466.49" y="663.24" width="14.61" height="15.86" fill="#1f0cff"/>
<rect x="495.71" y="663.24" width="14.61" height="15.86" fill="#1f0cff"/>
<rect x="554.15" y="663.24" width="14.61" height="15.86" fill="#1f0cff"/>
<rect x="583.37" y="663.24" width="14.61" height="15.86" fill="#1f0cff"/>
<rect x="612.59" y="663.24" width="14.61" height="15.86" fill="#1f0cff"/>
<rect x="422.66" y="679.10" width="14.61" height="15.86" fill="#1f0cff"/>
<rect x="629.90" y="124.00" width="58.72" height="586.82" fill="#0000ff"/>
<rect x="629.90" y="124.00" width="14.68" height="15.86" fill="#3f20ff"/>
<rect x="644.58" y="124.00" width="14.68" height="15.86" fill="#bd99ff"/>
<rect x="659.26" y="124.00" width="14.68" height="15.86" fill="#3f20ff"/>
<rect x="629.90" y="139.86" width="14.68" height="15.86" fill="#ff0000"/>
<rect x="629.90" y="155.72" width="14.68" height="15.86" fill="#5932ff"/>
<rect x="629.90" y="171.58" width="14.68" height="15.86" fill="#1f0cff"/>
<rect x="644.58" y="171.58" width="14.68" height="15.86" fill="#ff603f"/>
<rect x="659.26" y="171.58" width="14.68" height="15.86" fill="#7c4fff"/>
<rect x="629.90" y="187.44" width="14.68" height="15.86" fill="#1f0cff"/>
<rect x="629.90" y="219.16" width="14.68" height="15.86" fill="#1f0cff"/>
<rect x="629.90" y="235.02" width="14.68" height="15.86" fill="#1f0cff"/>
<rect x="629.90" y="250.88" width="14.68" height="15.86" fill="#1f0cff"/>
<rect x="629.90" y="266.74" width="14.68" height="15.86" fill="#1f0cff"/>
<rect x="629.90" y="330.18" width="14.68" height="15.86" fill="#3f20ff"/>
<rect x="629.90" y="346.04" width="14.68" height="15.86" fill="#3f20ff"/>
<rect x="629.90" y="361.90" width="14.68" height="15.86" fill="#3f20ff"/>
<rect x="629.90" y="393.62" width="14.68" height="15.86" fill="#1f0cff"/>
<rect x="629.90" y="409.48" width="14.68" height="15.86" fill="#1f0cff"/>
<rect x="644.58" y="409.48" width="14.68" height="15.86" fill="#bd99ff"/>
<rect x="629.90" y="425.34" width="14.68" height="15.86" fill="#5932ff"/>
<rect x="629.90" y="441.20" width="14.68" height="15.86" fill="#3f20ff"/>
<rect x="629.90" y="504.64" width="14.68" height="15.86" fill="#1f0cff"/>
<rect x="629.90" y="520.50" width="14.68" height="15.86" fill="#1f0cff"/>
<rect x="629.90" y="583.94" width="14.68" height="15.86" fill="#1f0cff"/>
</g>
<defs><filter id="bl" x="-2%" y="-2%" width="104%" height="104%"><feConvolveMatrix order="3" kernelMatrix="1 2 1 2 4 2 1 2 1" divisor="16" edgeMode="none" preserveAlpha="false"/></filter></defs>
<g shape-rendering="crispEdges" filter="url(#bl)">
<rect x="1045.70" y="122.20" width="57.40" height="585.00" fill="#0000ff"/>
<rect x="1060.05" y="182.20" width="14.35" height="15.00" fill="#ff603f"/>
<rect x="1074.40" y="182.20" width="14.35" height="15.00" fill="#ff603f"/>
<rect x="1060.05" y="197.20" width="14.35" height="15.00" fill="#3f20ff"/>
<rect x="1060.05" y="212.20" width="14.35" height="15.00" fill="#bd99ff"/>
<rect x="1060.05" y="242.20" width="14.35" height="15.00" fill="#d4b9ff"/>
<rect x="1060.05" y="257.20" width="14.35" height="15.00" fill="#d4b9ff"/>
<rect x="1045.70" y="272.20" width="14.35" height="15.00" fill="#3f20ff"/>
<rect x="1060.05" y="272.20" width="14.35" height="15.00" fill="#7c4fff"/>
<rect x="1088.75" y="272.20" width="14.35" height="15.00" fill="#9367ff"/>
<rect x="1060.05" y="287.20" width="14.35" height="15.00" fill="#9367ff"/>
<rect x="1060.05" y="302.20" width="14.35" height="15.00" fill="#7c4fff"/>
<rect x="1060.05" y="317.20" width="14.35" height="15.00" fill="#bd99ff"/>
<rect x="1060.05" y="332.20" width="14.35" height="15.00" fill="#a87eff"/>
<rect x="1060.05" y="347.20" width="14.35" height="15.00" fill="#7c4fff"/>
<rect x="1060.05" y="362.20" width="14.35" height="15.00" fill="#7c4fff"/>
<rect x="1060.05" y="377.20" width="14.35" height="15.00" fill="#7c4fff"/>
<rect x="1088.75" y="422.20" width="14.35" height="15.00" fill="#5932ff"/>
<rect x="1060.05" y="437.20" width="14.35" height="15.00" fill="#3f20ff"/>
<rect x="1060.05" y="452.20" width="14.35" height="15.00" fill="#5932ff"/>
<rect x="1060.05" y="512.20" width="14.35" height="15.00" fill="#3f20ff"/>
<rect x="1060.05" y="542.20" width="14.35" height="15.00" fill="#3f20ff"/>
<rect x="1074.40" y="572.20" width="14.35" height="15.00" fill="#7c4fff"/>
<rect x="1060.05" y="587.20" width="14.35" height="15.00" fill="#7c4fff"/>
<rect x="1074.40" y="587.20" width="14.35" height="15.00" fill="#ff0000"/>
<rect x="1060.05" y="602.20" width="14.35" height="15.00" fill="#7c4fff"/>
<rect x="1074.40" y="602.20" width="14.35" height="15.00" fill="#ff3e22"/>
<rect x="1088.75" y="602.20" width="14.35" height="15.00" fill="#7c4fff"/>
<rect x="1074.40" y="617.20" width="14.35" height="15.00" fill="#ff9e81"/>
<rect x="1060.05" y="632.20" width="14.35" height="15.00" fill="#7c4fff"/>
<rect x="1074.40" y="632.20" width="14.35" height="15.00" fill="#ffe0d6"/>
<rect x="1060.05" y="647.20" width="14.35" height="15.00" fill="#5932ff"/>
<rect x="1074.40" y="647.20" width="14.35" height="15.00" fill="#ff0000"/>
<rect x="1088.75" y="647.20" width="14.35" height="15.00" fill="#d4b9ff"/>
<rect x="1045.70" y="662.20" width="14.35" height="15.00" fill="#ff0000"/>
<rect x="1088.75" y="662.20" width="14.35" height="15.00" fill="#7c4fff"/>
<rect x="1045.70" y="677.20" width="14.35" height="15.00" fill="#ff0000"/>
<rect x="1060.05" y="692.20" width="14.35" height="15.00" fill="#ff0000"/>
<rect x="1106.80" y="122.20" width="288.60" height="585.00" fill="#0000ff"/>
<rect x="1106.80" y="122.20" width="14.43" height="15.00" fill="#a87eff"/>
<rect x="1121.23" y="122.20" width="14.43" height="15.00" fill="#ff0000"/>
<rect x="1135.66" y="122.20" width="14.43" height="15.00" fill="#ffc2ad"/>
<rect x="1150.09" y="122.20" width="14.43" height="15.00" fill="#ff0000"/>
<rect x="1164.52" y="122.20" width="14.43" height="15.00" fill="#ff0000"/>
<rect x="1178.95" y="122.20" width="14.43" height="15.00" fill="#ff0000"/>
<rect x="1193.38" y="122.20" width="14.43" height="15.00" fill="#ff0000"/>
<rect x="1207.81" y="122.20" width="14.43" height="15.00" fill="#ff3e22"/>
<rect x="1222.24" y="122.20" width="14.43" height="15.00" fill="#ff9e81"/>
<rect x="1265.53" y="122.20" width="14.43" height="15.00" fill="#3f20ff"/>
<rect x="1352.11" y="122.20" width="14.43" height="15.00" fill="#5932ff"/>
<rect x="1106.80" y="137.20" width="14.43" height="15.00" fill="#ff0000"/>
<rect x="1135.66" y="137.20" width="14.43" height="15.00" fill="#1f0cff"/>
<rect x="1150.09" y="137.20" width="14.43" height="15.00" fill="#3f20ff"/>
<rect x="1164.52" y="137.20" width="14.43" height="15.00" fill="#3f20ff"/>
<rect x="1178.95" y="137.20" width="14.43" height="15.00" fill="#a87eff"/>
<rect x="1193.38" y="137.20" width="14.43" height="15.00" fill="#7c4fff"/>
<rect x="1207.81" y="137.20" width="14.43" height="15.00" fill="#3f20ff"/>
<rect x="1236.67" y="137.20" width="14.43" height="15.00" fill="#ffffff"/>
<rect x="1251.10" y="137.20" width="14.43" height="15.00" fill="#d4b9ff"/>
<rect x="1279.96" y="137.20" width="14.43" height="15.00" fill="#9367ff"/>
<rect x="1294.39" y="137.20" width="14.43" height="15.00" fill="#1f0cff"/>
<rect x="1106.80" y="152.20" width="14.43" height="15.00" fill="#9367ff"/>
<rect x="1121.23" y="152.20" width="14.43" height="15.00" fill="#5932ff"/>
<rect x="1135.66" y="152.20" width="14.43" height="15.00" fill="#ff0000"/>
<rect x="1164.52" y="152.20" width="14.43" height="15.00" fill="#9367ff"/>
<rect x="1178.95" y="152.20" width="14.43" height="15.00" fill="#1f0cff"/>
<rect x="1207.81" y="152.20" width="14.43" height="15.00" fill="#3f20ff"/>
<rect x="1222.24" y="152.20" width="14.43" height="15.00" fill="#ff9e81"/>
<rect x="1236.67" y="152.20" width="14.43" height="15.00" fill="#3f20ff"/>
<rect x="1251.10" y="152.20" width="14.43" height="15.00" fill="#1f0cff"/>
<rect x="1265.53" y="152.20" width="14.43" height="15.00" fill="#9367ff"/>
<rect x="1279.96" y="152.20" width="14.43" height="15.00" fill="#9367ff"/>
<rect x="1294.39" y="152.20" width="14.43" height="15.00" fill="#9367ff"/>
<rect x="1308.82" y="152.20" width="14.43" height="15.00" fill="#3f20ff"/>
<rect x="1352.11" y="152.20" width="14.43" height="15.00" fill="#5932ff"/>
<rect x="1366.54" y="152.20" width="14.43" height="15.00" fill="#7c4fff"/>
<rect x="1380.97" y="152.20" width="14.43" height="15.00" fill="#3f20ff"/>
<rect x="1106.80" y="167.20" width="14.43" height="15.00" fill="#5932ff"/>
<rect x="1121.23" y="167.20" width="14.43" height="15.00" fill="#5932ff"/>
<rect x="1135.66" y="167.20" width="14.43" height="15.00" fill="#e9d9ff"/>
<rect x="1150.09" y="167.20" width="14.43" height="15.00" fill="#3f20ff"/>
<rect x="1164.52" y="167.20" width="14.43" height="15.00" fill="#7c4fff"/>
<rect x="1178.95" y="167.20" width="14.43" height="15.00" fill="#1f0cff"/>
<rect x="1193.38" y="167.20" width="14.43" height="15.00" fill="#3f20ff"/>
<rect x="1207.81" y="167.20" width="14.43" height="15.00" fill="#3f20ff"/>
<rect x="1222.24" y="167.20" width="14.43" height="15.00" fill="#e9d9ff"/>
<rect x="1236.67" y="167.20" width="14.43" height="15.00" fill="#7c4fff"/>
<rect x="1251.10" y="167.20" width="14.43" height="15.00" fill="#1f0cff"/>
<rect x="1265.53" y="167.20" width="14.43" height="15.00" fill="#1f0cff"/>
<rect x="1279.96" y="167.20" width="14.43" height="15.00" fill="#a87eff"/>
<rect x="1294.39" y="167.20" width="14.43" height="15.00" fill="#a87eff"/>
<rect x="1308.82" y="167.20" width="14.43" height="15.00" fill="#9367ff"/>
<rect x="1323.25" y="167.20" width="14.43" height="15.00" fill="#9367ff"/>
<rect x="1337.68" y="167.20" width="14.43" height="15.00" fill="#9367ff"/>
<rect x="1352.11" y="167.20" width="14.43" height="15.00" fill="#5932ff"/>
<rect x="1366.54" y="167.20" width="14.43" height="15.00" fill="#5932ff"/>
<rect x="1380.97" y="167.20" width="14.43" height="15.00" fill="#3f20ff"/>
<rect x="1135.66" y="227.20" width="14.43" height="15.00" fill="#bd99ff"/>
<rect x="1164.52" y="227.20" width="14.43" height="15.00" fill="#9367ff"/>
<rect x="1178.95" y="227.20" width="14.43" height="15.00" fill="#1f0cff"/>
<rect x="1193.38" y="227.20" width="14.43" height="15.00" fill="#1f0cff"/>
<rect x="1207.81" y="227.20" width="14.43" height="15.00" fill="#1f0cff"/>
<rect x="1222.24" y="227.20" width="14.43" height="15.00" fill="#9367ff"/>
<rect x="1236.67" y="227.20" width="14.43" height="15.00" fill="#3f20ff"/>
<rect x="1265.53" y="227.20" width="14.43" height="15.00" fill="#bd99ff"/>
<rect x="1279.96" y="227.20" width="14.43" height="15.00" fill="#5932ff"/>
<rect x="1308.82" y="227.20" width="14.43" height="15.00" fill="#1f0cff"/>
<rect x="1323.25" y="227.20" width="14.43" height="15.00" fill="#1f0cff"/>
<rect x="1366.54" y="227.20" width="14.43" height="15.00" fill="#1f0cff"/>
<rect x="1380.97" y="227.20" width="14.43" height="15.00" fill="#1f0cff"/>
<rect x="1207.81" y="257.20" width="14.43" height="15.00" fill="#1f0cff"/>
<rect x="1294.39" y="272.20" width="14.43" height="15.00" fill="#1f0cff"/>
<rect x="1279.96" y="287.20" width="14.43" height="15.00" fill="#1f0cff"/>
<rect x="1265.53" y="392.20" width="14.43" height="15.00" fill="#3f20ff"/>
<rect x="1294.39" y="392.20" width="14.43" height="15.00" fill="#3f20ff"/>
<rect x="1366.54" y="392.20" width="14.43" height="15.00" fill="#1f0cff"/>
<rect x="1337.68" y="407.20" width="14.43" height="15.00" fill="#3f20ff"/>
<rect x="1135.66" y="467.20" width="14.43" height="15.00" fill="#3f20ff"/>
<rect x="1222.24" y="467.20" width="14.43" height="15.00" fill="#3f20ff"/>
<rect x="1121.23" y="557.20" width="14.43" height="15.00" fill="#1f0cff"/>
<rect x="1193.38" y="557.20" width="14.43" height="15.00" fill="#1f0cff"/>
<rect x="1193.38" y="602.20" width="14.43" height="15.00" fill="#1f0cff"/>
<rect x="1279.96" y="602.20" width="14.43" height="15.00" fill="#3f20ff"/>
<rect x="1135.66" y="617.20" width="14.43" height="15.00" fill="#5932ff"/>
<rect x="1164.52" y="617.20" width="14.43" height="15.00" fill="#5932ff"/>
<rect x="1265.53" y="617.20" width="14.43" height="15.00" fill="#3f20ff"/>
<rect x="1294.39" y="617.20" width="14.43" height="15.00" fill="#3f20ff"/>
<rect x="1352.11" y="617.20" width="14.43" height="15.00" fill="#3f20ff"/>
<rect x="1279.96" y="647.20" width="14.43" height="15.00" fill="#5932ff"/>
<rect x="1294.39" y="692.20" width="14.43" height="15.00" fill="#5932ff"/>
<rect x="1398.20" y="122.20" width="317.02" height="585.00" fill="#0000ff"/>
<rect x="1455.84" y="122.20" width="14.41" height="15.00" fill="#1f0cff"/>
<rect x="1470.25" y="122.20" width="14.41" height="15.00" fill="#5932ff"/>
<rect x="1542.30" y="122.20" width="14.41" height="15.00" fill="#5932ff"/>
<rect x="1614.35" y="122.20" width="14.41" height="15.00" fill="#1f0cff"/>
<rect x="1686.40" y="122.20" width="14.41" height="15.00" fill="#1f0cff"/>
<rect x="1700.81" y="122.20" width="14.41" height="15.00" fill="#3f20ff"/>
<rect x="1427.02" y="137.20" width="14.41" height="15.00" fill="#ff0000"/>
<rect x="1527.89" y="137.20" width="14.41" height="15.00" fill="#e9d9ff"/>
<rect x="1542.30" y="137.20" width="14.41" height="15.00" fill="#bd99ff"/>
<rect x="1556.71" y="137.20" width="14.41" height="15.00" fill="#d4b9ff"/>
<rect x="1398.20" y="152.20" width="14.41" height="15.00" fill="#ff0000"/>
<rect x="1412.61" y="152.20" width="14.41" height="15.00" fill="#5932ff"/>
<rect x="1427.02" y="152.20" width="14.41" height="15.00" fill="#3f20ff"/>
<rect x="1441.43" y="152.20" width="14.41" height="15.00" fill="#ff0000"/>
<rect x="1455.84" y="152.20" width="14.41" height="15.00" fill="#ff0000"/>
<rect x="1470.25" y="152.20" width="14.41" height="15.00" fill="#5932ff"/>
<rect x="1484.66" y="152.20" width="14.41" height="15.00" fill="#5932ff"/>
<rect x="1499.07" y="152.20" width="14.41" height="15.00" fill="#ffc2ad"/>
<rect x="1513.48" y="152.20" width="14.41" height="15.00" fill="#ff603f"/>
<rect x="1527.89" y="152.20" width="14.41" height="15.00" fill="#e9d9ff"/>
<rect x="1542.30" y="152.20" width="14.41" height="15.00" fill="#a87eff"/>
<rect x="1556.71" y="152.20" width="14.41" height="15.00" fill="#bd99ff"/>
<rect x="1571.12" y="152.20" width="14.41" height="15.00" fill="#5932ff"/>
<rect x="1585.53" y="152.20" width="14.41" height="15.00" fill="#3f20ff"/>
<rect x="1599.94" y="152.20" width="14.41" height="15.00" fill="#9367ff"/>
<rect x="1614.35" y="152.20" width="14.41" height="15.00" fill="#9367ff"/>
<rect x="1628.76" y="152.20" width="14.41" height="15.00" fill="#9367ff"/>
<rect x="1643.17" y="152.20" width="14.41" height="15.00" fill="#1f0cff"/>
<rect x="1657.58" y="152.20" width="14.41" height="15.00" fill="#5932ff"/>
<rect x="1686.40" y="152.20" width="14.41" height="15.00" fill="#5932ff"/>
<rect x="1700.81" y="152.20" width="14.41" height="15.00" fill="#bd99ff"/>
<rect x="1412.61" y="167.20" width="14.41" height="15.00" fill="#5932ff"/>
<rect x="1427.02" y="167.20" width="14.41" height="15.00" fill="#3f20ff"/>
<rect x="1441.43" y="167.20" width="14.41" height="15.00" fill="#ffc2ad"/>
<rect x="1455.84" y="167.20" width="14.41" height="15.00" fill="#bd99ff"/>
<rect x="1470.25" y="167.20" width="14.41" height="15.00" fill="#d4b9ff"/>
<rect x="1484.66" y="167.20" width="14.41" height="15.00" fill="#3f20ff"/>
<rect x="1499.07" y="167.20" width="14.41" height="15.00" fill="#ffffff"/>
<rect x="1513.48" y="167.20" width="14.41" height="15.00" fill="#ffffff"/>
<rect x="1527.89" y="167.20" width="14.41" height="15.00" fill="#1f0cff"/>
<rect x="1542.30" y="167.20" width="14.41" height="15.00" fill="#3f20ff"/>
<rect x="1556.71" y="167.20" width="14.41" height="15.00" fill="#3f20ff"/>
<rect x="1571.12" y="167.20" width="14.41" height="15.00" fill="#ff9e81"/>
<rect x="1585.53" y="167.20" width="14.41" height="15.00" fill="#ffc2ad"/>
<rect x="1599.94" y="167.20" width="14.41" height="15.00" fill="#9367ff"/>
<rect x="1614.35" y="167.20" width="14.41" height="15.00" fill="#a87eff"/>
<rect x="1628.76" y="167.20" width="14.41" height="15.00" fill="#bd99ff"/>
<rect x="1643.17" y="167.20" width="14.41" height="15.00" fill="#bd99ff"/>
<rect x="1657.58" y="167.20" width="14.41" height="15.00" fill="#bd99ff"/>
<rect x="1671.99" y="167.20" width="14.41" height="15.00" fill="#bd99ff"/>
<rect x="1686.40" y="167.20" width="14.41" height="15.00" fill="#9367ff"/>
<rect x="1700.81" y="167.20" width="14.41" height="15.00" fill="#9367ff"/>
<rect x="1412.61" y="182.20" width="14.41" height="15.00" fill="#ff0000"/>
<rect x="1455.84" y="182.20" width="14.41" height="15.00" fill="#1f0cff"/>
<rect x="1470.25" y="182.20" width="14.41" height="15.00" fill="#1f0cff"/>
<rect x="1484.66" y="182.20" width="14.41" height="15.00" fill="#3f20ff"/>
<rect x="1571.12" y="182.20" width="14.41" height="15.00" fill="#1f0cff"/>
<rect x="1614.35" y="182.20" width="14.41" height="15.00" fill="#1f0cff"/>
<rect x="1628.76" y="182.20" width="14.41" height="15.00" fill="#1f0cff"/>
<rect x="1671.99" y="182.20" width="14.41" height="15.00" fill="#1f0cff"/>
<rect x="1412.61" y="197.20" width="14.41" height="15.00" fill="#ff0000"/>
<rect x="1455.84" y="197.20" width="14.41" height="15.00" fill="#1f0cff"/>
<rect x="1484.66" y="197.20" width="14.41" height="15.00" fill="#7c4fff"/>
<rect x="1628.76" y="197.20" width="14.41" height="15.00" fill="#3f20ff"/>
<rect x="1671.99" y="197.20" width="14.41" height="15.00" fill="#3f20ff"/>
<rect x="1412.61" y="212.20" width="14.41" height="15.00" fill="#ff9e81"/>
<rect x="1571.12" y="212.20" width="14.41" height="15.00" fill="#1f0cff"/>
<rect x="1398.20" y="227.20" width="14.41" height="15.00" fill="#5932ff"/>
<rect x="1412.61" y="227.20" width="14.41" height="15.00" fill="#3f20ff"/>
<rect x="1427.02" y="227.20" width="14.41" height="15.00" fill="#5932ff"/>
<rect x="1441.43" y="227.20" width="14.41" height="15.00" fill="#3f20ff"/>
<rect x="1455.84" y="227.20" width="14.41" height="15.00" fill="#bd99ff"/>
<rect x="1470.25" y="227.20" width="14.41" height="15.00" fill="#3f20ff"/>
<rect x="1499.07" y="227.20" width="14.41" height="15.00" fill="#9367ff"/>
<rect x="1513.48" y="227.20" width="14.41" height="15.00" fill="#3f20ff"/>
<rect x="1527.89" y="227.20" width="14.41" height="15.00" fill="#7c4fff"/>
<rect x="1542.30" y="227.20" width="14.41" height="15.00" fill="#7c4fff"/>
<rect x="1556.71" y="227.20" width="14.41" height="15.00" fill="#3f20ff"/>
<rect x="1571.12" y="227.20" width="14.41" height="15.00" fill="#bd99ff"/>
<rect x="1585.53" y="227.20" width="14.41" height="15.00" fill="#5932ff"/>
<rect x="1599.94" y="227.20" width="14.41" height="15.00" fill="#ffffff"/>
<rect x="1614.35" y="227.20" width="14.41" height="15.00" fill="#9367ff"/>
<rect x="1628.76" y="227.20" width="14.41" height="15.00" fill="#3f20ff"/>
<rect x="1643.17" y="227.20" width="14.41" height="15.00" fill="#7c4fff"/>
<rect x="1657.58" y="227.20" width="14.41" height="15.00" fill="#3f20ff"/>
<rect x="1671.99" y="227.20" width="14.41" height="15.00" fill="#3f20ff"/>
<rect x="1686.40" y="227.20" width="14.41" height="15.00" fill="#3f20ff"/>
<rect x="1700.81" y="227.20" width="14.41" height="15.00" fill="#3f20ff"/>
<rect x="1412.61" y="242.20" width="14.41" height="15.00" fill="#bd99ff"/>
<rect x="1470.25" y="242.20" width="14.41" height="15.00" fill="#1f0cff"/>
<rect x="1614.35" y="242.20" width="14.41" height="15.00" fill="#3f20ff"/>
<rect x="1412.61" y="257.20" width="14.41" height="15.00" fill="#5932ff"/>
<rect x="1484.66" y="257.20" width="14.41" height="15.00" fill="#3f20ff"/>
<rect x="1556.71" y="257.20" width="14.41" height="15.00" fill="#1f0cff"/>
<rect x="1614.35" y="257.20" width="14.41" height="15.00" fill="#7c4fff"/>
<rect x="1628.76" y="257.20" width="14.41" height="15.00" fill="#3f20ff"/>
<rect x="1398.20" y="272.20" width="14.41" height="15.00" fill="#1f0cff"/>
<rect x="1412.61" y="272.20" width="14.41" height="15.00" fill="#3f20ff"/>
<rect x="1499.07" y="272.20" width="14.41" height="15.00" fill="#5932ff"/>
<rect x="1513.48" y="272.20" width="14.41" height="15.00" fill="#5932ff"/>
<rect x="1527.89" y="272.20" width="14.41" height="15.00" fill="#7c4fff"/>
<rect x="1542.30" y="272.20" width="14.41" height="15.00" fill="#1f0cff"/>
<rect x="1657.58" y="272.20" width="14.41" height="15.00" fill="#1f0cff"/>
<rect x="1412.61" y="287.20" width="14.41" height="15.00" fill="#7c4fff"/>
<rect x="1484.66" y="287.20" width="14.41" height="15.00" fill="#3f20ff"/>
<rect x="1628.76" y="287.20" width="14.41" height="15.00" fill="#3f20ff"/>
<rect x="1412.61" y="302.20" width="14.41" height="15.00" fill="#7c4fff"/>
<rect x="1470.25" y="302.20" width="14.41" height="15.00" fill="#1f0cff"/>
<rect x="1571.12" y="302.20" width="14.41" height="15.00" fill="#1f0cff"/>
<rect x="1628.76" y="302.20" width="14.41" height="15.00" fill="#1f0cff"/>
<rect x="1671.99" y="302.20" width="14.41" height="15.00" fill="#1f0cff"/>
<rect x="1412.61" y="317.20" width="14.41" height="15.00" fill="#3f20ff"/>
<rect x="1556.71" y="317.20" width="14.41" height="15.00" fill="#1f0cff"/>
<rect x="1614.35" y="317.20" width="14.41" height="15.00" fill="#3f20ff"/>
<rect x="1412.61" y="332.20" width="14.41" height="15.00" fill="#1f0cff"/>
<rect x="1455.84" y="332.20" width="14.41" height="15.00" fill="#3f20ff"/>
<rect x="1628.76" y="332.20" width="14.41" height="15.00" fill="#3f20ff"/>
<rect x="1412.61" y="347.20" width="14.41" height="15.00" fill="#1f0cff"/>
<rect x="1614.35" y="347.20" width="14.41" height="15.00" fill="#3f20ff"/>
<rect x="1412.61" y="362.20" width="14.41" height="15.00" fill="#3f20ff"/>
<rect x="1628.76" y="362.20" width="14.41" height="15.00" fill="#1f0cff"/>
<rect x="1643.17" y="362.20" width="14.41" height="15.00" fill="#1f0cff"/>
<rect x="1412.61" y="377.20" width="14.41" height="15.00" fill="#1f0cff"/>
<rect x="1441.43" y="377.20" width="14.41" height="15.00" fill="#1f0cff"/>
<rect x="1470.25" y="377.20" width="14.41" height="15.00" fill="#1f0cff"/>
<rect x="1484.66" y="377.20" width="14.41" height="15.00" fill="#1f0cff"/>
<rect x="1671.99" y="377.20" width="14.41" height="15.00" fill="#1f0cff"/>
<rect x="1398.20" y="392.20" width="14.41" height="15.00" fill="#9367ff"/>
<rect x="1427.02" y="392.20" width="14.41" height="15.00" fill="#3f20ff"/>
<rect x="1455.84" y="392.20" width="14.41" height="15.00" fill="#5932ff"/>
<rect x="1513.48" y="392.20" width="14.41" height="15.00" fill="#3f20ff"/>
<rect x="1527.89" y="392.20" width="14.41" height="15.00" fill="#5932ff"/>
<rect x="1556.71" y="392.20" width="14.41" height="15.00" fill="#1f0cff"/>
<rect x="1571.12" y="392.20" width="14.41" height="15.00" fill="#3f20ff"/>
<rect x="1599.94" y="392.20" width="14.41" height="15.00" fill="#9367ff"/>
<rect x="1643.17" y="392.20" width="14.41" height="15.00" fill="#5932ff"/>
<rect x="1398.20" y="407.20" width="14.41" height="15.00" fill="#7c4fff"/>
<rect x="1427.02" y="407.20" width="14.41" height="15.00" fill="#1f0cff"/>
<rect x="1499.07" y="407.20" width="14.41" height="15.00" fill="#5932ff"/>
<rect x="1513.48" y="407.20" width="14.41" height="15.00" fill="#5932ff"/>
<rect x="1542.30" y="407.20" width="14.41" height="15.00" fill="#7c4fff"/>
<rect x="1556.71" y="407.20" width="14.41" height="15.00" fill="#1f0cff"/>
<rect x="1614.35" y="407.20" width="14.41" height="15.00" fill="#3f20ff"/>
<rect x="1686.40" y="407.20" width="14.41" height="15.00" fill="#1f0cff"/>
<rect x="1412.61" y="422.20" width="14.41" height="15.00" fill="#3f20ff"/>
<rect x="1527.89" y="422.20" width="14.41" height="15.00" fill="#3f20ff"/>
<rect x="1542.30" y="422.20" width="14.41" height="15.00" fill="#7c4fff"/>
<rect x="1412.61" y="437.20" width="14.41" height="15.00" fill="#7c4fff"/>
<rect x="1484.66" y="437.20" width="14.41" height="15.00" fill="#1f0cff"/>
<rect x="1614.35" y="437.20" width="14.41" height="15.00" fill="#1f0cff"/>
<rect x="1628.76" y="437.20" width="14.41" height="15.00" fill="#3f20ff"/>
<rect x="1412.61" y="452.20" width="14.41" height="15.00" fill="#1f0cff"/>
<rect x="1484.66" y="452.20" width="14.41" height="15.00" fill="#1f0cff"/>
<rect x="1628.76" y="452.20" width="14.41" height="15.00" fill="#1f0cff"/>
<rect x="1455.84" y="467.20" width="14.41" height="15.00" fill="#5932ff"/>
<rect x="1499.07" y="467.20" width="14.41" height="15.00" fill="#1f0cff"/>
<rect x="1527.89" y="467.20" width="14.41" height="15.00" fill="#1f0cff"/>
<rect x="1571.12" y="467.20" width="14.41" height="15.00" fill="#3f20ff"/>
<rect x="1643.17" y="467.20" width="14.41" height="15.00" fill="#1f0cff"/>
<rect x="1484.66" y="482.20" width="14.41" height="15.00" fill="#1f0cff"/>
<rect x="1499.07" y="482.20" width="14.41" height="15.00" fill="#5932ff"/>
<rect x="1513.48" y="482.20" width="14.41" height="15.00" fill="#5932ff"/>
<rect x="1628.76" y="482.20" width="14.41" height="15.00" fill="#5932ff"/>
<rect x="1470.25" y="497.20" width="14.41" height="15.00" fill="#1f0cff"/>
<rect x="1484.66" y="497.20" width="14.41" height="15.00" fill="#5932ff"/>
<rect x="1412.61" y="512.20" width="14.41" height="15.00" fill="#1f0cff"/>
<rect x="1484.66" y="512.20" width="14.41" height="15.00" fill="#3f20ff"/>
<rect x="1614.35" y="512.20" width="14.41" height="15.00" fill="#3f20ff"/>
<rect x="1455.84" y="527.20" width="14.41" height="15.00" fill="#3f20ff"/>
<rect x="1484.66" y="527.20" width="14.41" height="15.00" fill="#3f20ff"/>
<rect x="1542.30" y="527.20" width="14.41" height="15.00" fill="#3f20ff"/>
<rect x="1599.94" y="527.20" width="14.41" height="15.00" fill="#1f0cff"/>
<rect x="1556.71" y="542.20" width="14.41" height="15.00" fill="#1f0cff"/>
<rect x="1398.20" y="572.20" width="14.41" height="15.00" fill="#1f0cff"/>
<rect x="1412.61" y="572.20" width="14.41" height="15.00" fill="#1f0cff"/>
<rect x="1614.35" y="572.20" width="14.41" height="15.00" fill="#1f0cff"/>
<rect x="1412.61" y="587.20" width="14.41" height="15.00" fill="#3f20ff"/>
<rect x="1484.66" y="587.20" width="14.41" height="15.00" fill="#3f20ff"/>
<rect x="1513.48" y="587.20" width="14.41" height="15.00" fill="#3f20ff"/>
<rect x="1527.89" y="587.20" width="14.41" height="15.00" fill="#7c4fff"/>
<rect x="1671.99" y="587.20" width="14.41" height="15.00" fill="#1f0cff"/>
<rect x="1412.61" y="602.20" width="14.41" height="15.00" fill="#3f20ff"/>
<rect x="1484.66" y="602.20" width="14.41" height="15.00" fill="#1f0cff"/>
<rect x="1527.89" y="602.20" width="14.41" height="15.00" fill="#5932ff"/>
<rect x="1542.30" y="602.20" width="14.41" height="15.00" fill="#1f0cff"/>
<rect x="1556.71" y="602.20" width="14.41" height="15.00" fill="#1f0cff"/>
<rect x="1614.35" y="602.20" width="14.41" height="15.00" fill="#1f0cff"/>
<rect x="1455.84" y="617.20" width="14.41" height="15.00" fill="#5932ff"/>
<rect x="1628.76" y="617.20" width="14.41" height="15.00" fill="#5932ff"/>
<rect x="1484.66" y="632.20" width="14.41" height="15.00" fill="#1f0cff"/>
<rect x="1614.35" y="632.20" width="14.41" height="15.00" fill="#1f0cff"/>
<rect x="1412.61" y="647.20" width="14.41" height="15.00" fill="#3f20ff"/>
<rect x="1441.43" y="647.20" width="14.41" height="15.00" fill="#1f0cff"/>
<rect x="1484.66" y="647.20" width="14.41" height="15.00" fill="#1f0cff"/>
<rect x="1499.07" y="647.20" width="14.41" height="15.00" fill="#7c4fff"/>
<rect x="1542.30" y="647.20" width="14.41" height="15.00" fill="#5932ff"/>
<rect x="1556.71" y="647.20" width="14.41" height="15.00" fill="#1f0cff"/>
<rect x="1599.94" y="647.20" width="14.41" height="15.00" fill="#1f0cff"/>
<rect x="1614.35" y="647.20" width="14.41" height="15.00" fill="#1f0cff"/>
<rect x="1643.17" y="647.20" width="14.41" height="15.00" fill="#1f0cff"/>
<rect x="1657.58" y="647.20" width="14.41" height="15.00" fill="#1f0cff"/>
<rect x="1412.61" y="662.20" width="14.41" height="15.00" fill="#9367ff"/>
<rect x="1499.07" y="662.20" width="14.41" height="15.00" fill="#a87eff"/>
<rect x="1599.94" y="662.20" width="14.41" height="15.00" fill="#3f20ff"/>
<rect x="1412.61" y="677.20" width="14.41" height="15.00" fill="#5932ff"/>
<rect x="1499.07" y="677.20" width="14.41" height="15.00" fill="#5932ff"/>
<rect x="1599.94" y="677.20" width="14.41" height="15.00" fill="#1f0cff"/>
<rect x="1412.61" y="692.20" width="14.41" height="15.00" fill="#d4b9ff"/>
<rect x="1470.25" y="692.20" width="14.41" height="15.00" fill="#ff0000"/>
<rect x="1484.66" y="692.20" width="14.41" height="15.00" fill="#ffffff"/>
<rect x="1571.12" y="692.20" width="14.41" height="15.00" fill="#3f20ff"/>
<rect x="1628.76" y="692.20" width="14.41" height="15.00" fill="#5932ff"/>
<rect x="1671.99" y="692.20" width="14.41" height="15.00" fill="#3f20ff"/>
</g>
<path d="M46.69 123.20V92.60H88.37V105.50M61.27 123.20V105.50H115.48V110.50M86.78 119.80V110.50H144.17V112.10M75.85 123.20V119.80H97.72V120.40M90.43 123.20V120.40H105.01V123.20M119.59 123.20V112.10H168.74V115.30M141.46 117.60V115.30H196.02V115.60M134.17 123.20V117.60H148.75V123.20M170.62 118.70V115.60H221.42V116.00M163.33 123.20V118.70H177.91V123.20M192.49 123.20V116.00H250.35V116.30M218.00 118.70V116.30H282.70V116.80M207.07 123.20V118.70H228.94V121.30M221.65 123.20V121.30H236.23V123.20M258.10 121.30V116.80H307.31V117.40M250.81 123.20V121.30H265.39V123.20M290.90 120.00V117.40H323.71V123.20M279.97 123.20V120.00H301.84V121.00M294.55 123.20V121.00H309.13V123.20M353.26 113.50V103.40H426.75V109.50M342.31 123.20V113.50H364.22V115.70M356.92 123.20V115.70H371.52V123.20M397.09 113.00V109.50H456.42V112.10M386.13 123.20V113.00H408.05V118.50M400.75 123.20V118.50H415.36V123.20M437.27 113.90V112.10H475.56V113.40M429.97 123.20V113.90H444.57V123.20M459.19 123.20V113.40H491.94V114.20M473.79 123.20V114.20H510.09V114.80M488.40 123.20V114.80H531.78V115.50M503.01 123.20V115.50H560.54V116.50M528.58 119.50V116.50H592.50V117.80M517.62 123.20V119.50H539.54V121.80M532.24 123.20V121.80H546.85V123.20M572.41 120.50V117.80H612.59V121.20M561.45 123.20V120.50H583.37V121.80M576.07 123.20V121.80H590.67V123.20M605.28 123.20V121.20H619.89V123.20M637.24 123.20V107.10H662.93V116.50M651.92 123.20V116.50H673.94V121.80M666.60 123.20V121.80H681.28V123.20M390.01 103.4V90.3H650.09V107.1M67.53 92.6V87.2H520.05V90.3" fill="none" stroke="#3a3a3a" stroke-width="1.3"/>
<path d="M49 90.7H669" stroke="#9a9a9a" stroke-width="1.2" stroke-dasharray="1.6 2.2" fill="none"/>
<path d="M38.20 131.93H2.60V230.28H12.80M38.20 147.79H12.80V312.77H22.20M38.20 163.65H22.20V461.89H25.40M28.10 220.88H25.40V702.89H38.20M38.20 179.51H28.10V262.26H30.50M38.20 195.37H30.50V329.15H31.60M32.40 235.02H31.60V423.27H34.20M33.40 219.16H32.40V250.88H33.40M38.20 211.23H33.40V227.09H38.20M38.20 242.95H33.40V258.81H38.20M34.80 302.27H34.20V544.27H38.00M38.20 274.67H34.80V329.87H35.00M36.40 298.46H35.00V361.28H35.20M38.20 290.53H36.40V306.39H38.20M36.40 330.18H35.20V392.38H35.40M38.20 322.25H36.40V338.11H38.20M36.40 361.90H35.40V422.86H35.60M38.20 353.97H36.40V369.83H38.20M36.40 393.62H35.60V452.10H35.80M38.20 385.69H36.40V401.55H38.20M36.40 425.34H35.80V478.87H36.00M38.20 417.41H36.40V433.27H38.20M36.40 457.06H36.00V500.67H36.20M38.20 449.13H36.40V464.99H38.20M36.40 488.78H36.20V512.57H38.20M38.20 480.85H36.40V496.71H38.20M38.20 528.43H38.00V560.12H38.00M38.20 544.29H38.00V575.95H38.00M38.20 560.15H38.00V591.75H38.00M38.20 576.01H38.00V607.48H38.00M38.20 591.87H38.00V623.09H38.00M38.20 607.73H38.00V638.46H38.00M38.20 623.59H38.00V653.33H38.00M38.20 639.45H38.00V667.20H38.00M38.20 655.31H38.00V679.10H38.00M38.20 671.17H38.00V687.03H38.20" fill="none" stroke="#3a3a3a" stroke-width="1.3"/>
<path d="M1052.88 121.40V96.70H1077.99V103.50M1067.23 121.40V103.50H1088.75V114.70M1081.58 121.40V114.70H1095.92V121.40M1114.01 121.40V105.20H1154.60V109.40M1128.44 121.40V109.40H1180.75V113.40M1142.88 121.40V113.40H1218.63V115.70M1157.30 121.40V115.70H1279.96V116.40M1222.24 118.74V116.40H1337.68V118.74M1193.38 120.03V118.74H1251.10V120.03M1178.95 120.73V120.03H1207.81V120.73M1171.73 121.40V120.73H1186.16V121.40M1200.60 121.40V120.73H1215.02V121.40M1236.67 120.73V120.03H1265.53V120.73M1229.45 121.40V120.73H1243.88V121.40M1258.32 121.40V120.73H1272.74V121.40M1308.82 120.03V118.74H1366.54V120.03M1294.39 120.73V120.03H1323.25V120.73M1287.17 121.40V120.73H1301.61V121.40M1316.03 121.40V120.73H1330.46V121.40M1352.11 120.73V120.03H1380.97V120.73M1344.89 121.40V120.73H1359.33V121.40M1373.75 121.40V120.73H1388.18V121.40M1405.40 121.40V112.20H1434.22V114.60M1419.82 121.40V114.60H1448.63V116.00M1434.23 121.40V116.00H1463.04V116.25M1448.63 121.40V116.25H1477.45V116.50M1463.05 121.40V116.50H1491.86V116.75M1477.45 121.40V116.75H1506.27V117.00M1491.87 121.40V117.00H1520.68V117.25M1506.28 121.40V117.25H1535.09V117.50M1520.68 121.40V117.50H1549.50V117.75M1535.10 121.40V117.75H1563.91V118.00M1549.51 121.40V118.00H1578.31V118.25M1563.91 121.40V118.25H1592.71V118.50M1578.33 121.40V118.50H1607.09V118.75M1592.74 121.40V118.75H1621.44V119.00M1607.14 121.40V119.00H1635.74V119.25M1621.56 121.40V119.25H1649.92V119.50M1635.97 121.40V119.50H1663.88V119.75M1650.38 121.40V119.75H1677.39V120.00M1664.79 121.40V120.00H1690.00V120.25M1679.20 121.40V120.25H1700.81V120.50M1693.61 121.40V120.50H1708.02V121.40M1134.31 105.2V95.6H1419.81V112.2M1065.43 96.7V90.8H1277.06V95.6" fill="none" stroke="#555" stroke-width="1.2" filter="url(#bl)"/>
<path d="M1051 95.9H1438" stroke="#aaa" stroke-width="1" stroke-dasharray="1.5 2.5" fill="none"/>
<path d="M1018.40 288.61H1014.90V699.70H1044.70M1044.70 129.70H1018.40V447.51H1019.80M1022.90 217.82H1019.80V677.20H1043.30M1044.70 144.70H1022.90V290.95H1027.70M1044.70 159.70H1027.70V422.20H1034.60M1037.60 189.70H1034.60V654.70H1044.70M1044.70 174.70H1037.60V204.70H1039.00M1044.70 189.70H1039.00V219.70H1039.15M1044.70 204.70H1039.15V234.70H1039.30M1044.70 219.70H1039.30V249.70H1039.45M1044.70 234.70H1039.45V264.70H1039.60M1044.70 249.70H1039.60V279.70H1039.75M1044.70 264.70H1039.75V294.70H1039.90M1044.70 279.70H1039.90V309.70H1040.05M1044.70 294.70H1040.05V324.70H1040.20M1044.70 309.70H1040.20V339.70H1040.35M1044.70 324.70H1040.35V354.70H1040.50M1044.70 339.70H1040.50V369.70H1040.65M1044.70 354.70H1040.65V384.70H1040.80M1044.70 369.70H1040.80V399.70H1040.95M1044.70 384.70H1040.95V414.70H1041.10M1044.70 399.70H1041.10V429.70H1041.25M1044.70 414.70H1041.25V444.70H1041.40M1044.70 429.70H1041.40V459.70H1041.55M1044.70 444.70H1041.55V474.70H1041.70M1044.70 459.70H1041.70V489.69H1041.85M1044.70 474.70H1041.85V504.69H1042.00M1044.70 489.70H1042.00V519.67H1042.15M1044.70 504.70H1042.15V534.64H1042.30M1044.70 519.70H1042.30V549.58H1042.45M1044.70 534.70H1042.45V564.47H1042.60M1044.70 549.70H1042.60V579.23H1042.75M1044.70 564.70H1042.75V593.76H1042.90M1044.70 579.70H1042.90V607.83H1043.05M1044.70 594.70H1043.05V620.95H1043.20M1044.70 609.70H1043.20V632.20H1043.35M1044.70 624.70H1043.35V639.70H1044.70M1044.70 669.70H1043.30V684.70H1044.70" fill="none" stroke="#666" stroke-width="1.2" filter="url(#bl)"/>
<g font-size="14.5" fill="#1a1a1a">
<text transform="translate(692.0 139.03) scale(1 1.09)">Escherichia fergusonii</text>
<text transform="translate(692.0 154.89) scale(1 1.09)">Prevotella copri</text>
<text transform="translate(692.0 170.75) scale(1 1.09)">[Eubacterium] rectale</text>
<text transform="translate(692.0 186.61) scale(1 1.09)">Bacteroides caccae</text>
<text transform="translate(692.0 202.47) scale(1 1.09)">Bifidobacterium adolescentis</text>
<text transform="translate(692.0 218.33) scale(1 1.09)">Lactobacillus plantarum</text>
<text transform="translate(692.0 234.19) scale(1 1.09)">Gemmiger formicilis</text>
<text transform="translate(692.0 250.05) scale(1 1.09)">Bacteroides thetaiotaomicron</text>
<text transform="translate(692.0 265.91) scale(1 1.09)">Coprococcus eutactus</text>
<text transform="translate(692.0 281.77) scale(1 1.09)">Parabacteroides distasonis</text>
<text transform="translate(692.0 297.63) scale(1 1.09)">Christensenella massiliensis</text>
<text transform="translate(692.0 313.49) scale(1 1.09)">Romboutsia timonensis</text>
<text transform="translate(692.0 329.35) scale(1 1.09)">Bacteroides eggerthii</text>
<text transform="translate(692.0 345.21) scale(1 1.09)">Parabacteroides goldsteinii</text>
<text transform="translate(692.0 361.07) scale(1 1.09)">Fusicatenibacter saccharivorans</text>
<text transform="translate(692.0 376.93) scale(1 1.09)">Ruminococcus faecis</text>
<text transform="translate(692.0 392.79) scale(1 1.09)">[Clostridium] spiroforme</text>
<text transform="translate(692.0 408.65) scale(1 1.09)">Eubacterium ramulus</text>
<text transform="translate(692.0 424.51) scale(1 1.09)">Dorea longicatena</text>
<text transform="translate(692.0 440.37) scale(1 1.09)">Lachnoclostridium pacaense</text>
<text transform="translate(692.0 456.23) scale(1 1.09)">Desulfovibrio simplex</text>
<text transform="translate(692.0 472.09) scale(1 1.09)">Butyricimonas paravirosa</text>
<text transform="translate(692.0 487.95) scale(1 1.09)">Bacteroides nordii</text>
<text transform="translate(692.0 503.81) scale(1 1.09)">Hungateiclostridium thermocellum</text>
<text transform="translate(692.0 519.67) scale(1 1.09)">Eubacterium ventriosum</text>
<text transform="translate(692.0 535.53) scale(1 1.09)">Dorea formicigenerans</text>
<text transform="translate(692.0 551.39) scale(1 1.09)">Erysipelatoclostridium ramosum</text>
<text transform="translate(692.0 567.25) scale(1 1.09)">Parabacteroides gordonii</text>
<text transform="translate(692.0 583.11) scale(1 1.09)">Cloacibacillus evryensis</text>
<text transform="translate(692.0 598.97) scale(1 1.09)">[Clostridium] clostridioforme</text>
<text transform="translate(692.0 614.83) scale(1 1.09)">Parasporobacterium paucivorans</text>
<text transform="translate(692.0 630.69) scale(1 1.09)">[Clostridium] saccharogumia</text>
<text transform="translate(692.0 646.55) scale(1 1.09)">[Clostridium] colinum</text>
<text transform="translate(692.0 662.41) scale(1 1.09)">Holdemania filiformis</text>
<text transform="translate(692.0 678.27) scale(1 1.09)">Ruthenibacterium lactatiformans</text>
<text transform="translate(692.0 694.13) scale(1 1.09)">Alistipes ihumii</text>
<text transform="translate(692.0 709.99) scale(1 1.09)">Morganella morganii</text>
</g>
<g font-size="12.2" fill="#222" filter="url(#bl)">
<text transform="translate(1718.3 135.70) scale(1 1.04)">Haemophilus pittmaniae</text>
<text transform="translate(1718.3 150.70) scale(1 1.04)">Neisseria oralis</text>
<text transform="translate(1718.3 165.70) scale(1 1.04)">Prevotella melaninogenica</text>
<text transform="translate(1718.3 180.70) scale(1 1.04)">Granulicatella adiacens</text>
<text transform="translate(1718.3 195.70) scale(1 1.04)">Faecalibacterium prausnitzii</text>
<text transform="translate(1718.3 210.70) scale(1 1.04)">Bacteroides plebeius</text>
<text transform="translate(1718.3 225.70) scale(1 1.04)">Alistipes putredinis</text>
<text transform="translate(1718.3 240.70) scale(1 1.04)">Alloprevotella rava</text>
<text transform="translate(1718.3 255.70) scale(1 1.04)">Sutterella massiliensis</text>
<text transform="translate(1718.3 270.70) scale(1 1.04)">Bacteroides vulgatus</text>
<text transform="translate(1718.3 285.70) scale(1 1.04)">Acidovorax radicis</text>
<text transform="translate(1718.3 300.70) scale(1 1.04)">[Eubacterium] rectale</text>
<text transform="translate(1718.3 315.70) scale(1 1.04)">Oscillibacter ruminantium</text>
<text transform="translate(1718.3 330.70) scale(1 1.04)">Megamonas funiformis</text>
<text transform="translate(1718.3 345.70) scale(1 1.04)">Bacteroides ovatus</text>
<text transform="translate(1718.3 360.70) scale(1 1.04)">Lachnoclostridium pacaense</text>
<text transform="translate(1718.3 375.70) scale(1 1.04)">[Clostridium] xylanolyticum</text>
<text transform="translate(1718.3 390.70) scale(1 1.04)">Parabacteroides merdae</text>
<text transform="translate(1718.3 405.70) scale(1 1.04)">Johnsonella ignava</text>
<text transform="translate(1718.3 420.70) scale(1 1.04)">Lactobacillus gasseri</text>
<text transform="translate(1718.3 435.70) scale(1 1.04)">Pelobacter acetylenicus</text>
<text transform="translate(1718.3 450.70) scale(1 1.04)">Gemmiger formicilis</text>
<text transform="translate(1718.3 465.70) scale(1 1.04)">Sporobacter termitidis</text>
<text transform="translate(1718.3 480.70) scale(1 1.04)">Prevotella albensis</text>
<text transform="translate(1718.3 495.70) scale(1 1.04)">Anaerotaenia torta</text>
<text transform="translate(1718.3 510.70) scale(1 1.04)">Porphyromonas gulae</text>
<text transform="translate(1718.3 525.70) scale(1 1.04)">Paraprevotella clara</text>
<text transform="translate(1718.3 540.70) scale(1 1.04)">[Clostridium] saccharolyticum</text>
<text transform="translate(1718.3 555.70) scale(1 1.04)">Ruminococcus bromii</text>
<text transform="translate(1718.3 570.70) scale(1 1.04)">Streptococcus equinus</text>
<text transform="translate(1718.3 585.70) scale(1 1.04)">Massilia yuzhufengensis</text>
<text transform="translate(1718.3 600.70) scale(1 1.04)">Kineothrix alysoides</text>
<text transform="translate(1718.3 615.70) scale(1 1.04)">Escherichia fergusonii</text>
<text transform="translate(1718.3 630.70) scale(1 1.04)">Acinetobacter lwoffii</text>
<text transform="translate(1718.3 645.70) scale(1 1.04)">Holdemanella biformis</text>
<text transform="translate(1718.3 660.70) scale(1 1.04)">Bacteroides caccae</text>
<text transform="translate(1718.3 675.70) scale(1 1.04)">Cetobacterium somerae</text>
<text transform="translate(1718.3 690.70) scale(1 1.04)">Deinococcus misasensis</text>
<text transform="translate(1718.3 705.70) scale(1 1.04)">Prevotella copri</text>
</g>
<g font-size="15.5" fill="#1a1a1a" text-anchor="end">
<text transform="translate(53.29 714.6) rotate(-90)">X11ST</text>
<text transform="translate(67.87 714.6) rotate(-90)">X09ST</text>
<text transform="translate(82.45 714.6) rotate(-90)">X01ST</text>
<text transform="translate(97.03 714.6) rotate(-90)">X12ST</text>
<text transform="translate(111.61 714.6) rotate(-90)">X16ST</text>
<text transform="translate(126.19 714.6) rotate(-90)">X08ST</text>
<text transform="translate(140.77 714.6) rotate(-90)">X19ST</text>
<text transform="translate(155.35 714.6) rotate(-90)">X21ST</text>
<text transform="translate(169.93 714.6) rotate(-90)">X03ST</text>
<text transform="translate(184.51 714.6) rotate(-90)">X14ST</text>
<text transform="translate(199.09 714.6) rotate(-90)">X02ST</text>
<text transform="translate(213.67 714.6) rotate(-90)">X10ST</text>
<text transform="translate(228.25 714.6) rotate(-90)">X13ST</text>
<text transform="translate(242.83 714.6) rotate(-90)">X15ST</text>
<text transform="translate(257.41 714.6) rotate(-90)">X18ST</text>
<text transform="translate(271.99 714.6) rotate(-90)">X06ST</text>
<text transform="translate(286.57 714.6) rotate(-90)">X17ST</text>
<text transform="translate(301.15 714.6) rotate(-90)">X22ST</text>
<text transform="translate(315.73 714.6) rotate(-90)">X07ST</text>
<text transform="translate(330.31 714.6) rotate(-90)">X20ST</text>
<text transform="translate(348.91 714.6) rotate(-90)">C09ST</text>
<text transform="translate(363.52 714.6) rotate(-90)">C17ST</text>
<text transform="translate(378.12 714.6) rotate(-90)">C20ST</text>
<text transform="translate(392.74 714.6) rotate(-90)">C05ST</text>
<text transform="translate(407.35 714.6) rotate(-90)">C03ST</text>
<text transform="translate(421.96 714.6) rotate(-90)">C13ST</text>
<text transform="translate(436.57 714.6) rotate(-90)">C02ST</text>
<text transform="translate(451.18 714.6) rotate(-90)">C16ST</text>
<text transform="translate(465.79 714.6) rotate(-90)">C12ST</text>
<text transform="translate(480.39 714.6) rotate(-90)">C07ST</text>
<text transform="translate(495.00 714.6) rotate(-90)">C15ST</text>
<text transform="translate(509.62 714.6) rotate(-90)">C08ST</text>
<text transform="translate(524.23 714.6) rotate(-90)">C14ST</text>
<text transform="translate(538.84 714.6) rotate(-90)">C04ST</text>
<text transform="translate(553.45 714.6) rotate(-90)">C06ST</text>
<text transform="translate(568.05 714.6) rotate(-90)">C11ST</text>
<text transform="translate(582.67 714.6) rotate(-90)">C10ST</text>
<text transform="translate(597.27 714.6) rotate(-90)">C01ST</text>
<text transform="translate(611.88 714.6) rotate(-90)">C18ST</text>
<text transform="translate(626.50 714.6) rotate(-90)">C19ST</text>
<text transform="translate(643.84 714.6) rotate(-90)">X13TH</text>
<text transform="translate(658.52 714.6) rotate(-90)">X18TH</text>
<text transform="translate(673.20 714.6) rotate(-90)">X07TH</text>
<text transform="translate(687.88 714.6) rotate(-90)">X05TH</text>
</g>
<g font-size="12.6" fill="#222" text-anchor="end" filter="url(#bl)">
<text transform="translate(1058.47 710.4) rotate(-90) scale(1.04 1)">X05TH</text>
<text transform="translate(1072.83 710.4) rotate(-90) scale(1.04 1)">X13TH</text>
<text transform="translate(1087.17 710.4) rotate(-90) scale(1.04 1)">X18TH</text>
<text transform="translate(1101.52 710.4) rotate(-90) scale(1.04 1)">X07TH</text>
<text transform="translate(1119.61 710.4) rotate(-90) scale(1.04 1)">C18OR</text>
<text transform="translate(1134.04 710.4) rotate(-90) scale(1.04 1)">C20OR</text>
<text transform="translate(1148.47 710.4) rotate(-90) scale(1.04 1)">C13OR</text>
<text transform="translate(1162.90 710.4) rotate(-90) scale(1.04 1)">C16OR</text>
<text transform="translate(1177.33 710.4) rotate(-90) scale(1.04 1)">C02OR</text>
<text transform="translate(1191.76 710.4) rotate(-90) scale(1.04 1)">C19OR</text>
<text transform="translate(1206.19 710.4) rotate(-90) scale(1.04 1)">C07OR</text>
<text transform="translate(1220.62 710.4) rotate(-90) scale(1.04 1)">C01OR</text>
<text transform="translate(1235.05 710.4) rotate(-90) scale(1.04 1)">C12OR</text>
<text transform="translate(1249.48 710.4) rotate(-90) scale(1.04 1)">C17OR</text>
<text transform="translate(1263.91 710.4) rotate(-90) scale(1.04 1)">C11OR</text>
<text transform="translate(1278.34 710.4) rotate(-90) scale(1.04 1)">C14OR</text>
<text transform="translate(1292.77 710.4) rotate(-90) scale(1.04 1)">C09OR</text>
<text transform="translate(1307.20 710.4) rotate(-90) scale(1.04 1)">C08OR</text>
<text transform="translate(1321.63 710.4) rotate(-90) scale(1.04 1)">C03OR</text>
<text transform="translate(1336.06 710.4) rotate(-90) scale(1.04 1)">C04OR</text>
<text transform="translate(1350.49 710.4) rotate(-90) scale(1.04 1)">C05OR</text>
<text transform="translate(1364.92 710.4) rotate(-90) scale(1.04 1)">C15OR</text>
<text transform="translate(1379.35 710.4) rotate(-90) scale(1.04 1)">C06OR</text>
<text transform="translate(1393.78 710.4) rotate(-90) scale(1.04 1)">C10OR</text>
<text transform="translate(1411.00 710.4) rotate(-90) scale(1.04 1)">X11OR</text>
<text transform="translate(1425.41 710.4) rotate(-90) scale(1.04 1)">X07OR</text>
<text transform="translate(1439.83 710.4) rotate(-90) scale(1.04 1)">X19OR</text>
<text transform="translate(1454.23 710.4) rotate(-90) scale(1.04 1)">X02OR</text>
<text transform="translate(1468.64 710.4) rotate(-90) scale(1.04 1)">X21OR</text>
<text transform="translate(1483.05 710.4) rotate(-90) scale(1.04 1)">X16OR</text>
<text transform="translate(1497.46 710.4) rotate(-90) scale(1.04 1)">X18OR</text>
<text transform="translate(1511.88 710.4) rotate(-90) scale(1.04 1)">X13OR</text>
<text transform="translate(1526.28 710.4) rotate(-90) scale(1.04 1)">X05OR</text>
<text transform="translate(1540.69 710.4) rotate(-90) scale(1.04 1)">X06OR</text>
<text transform="translate(1555.11 710.4) rotate(-90) scale(1.04 1)">X14OR</text>
<text transform="translate(1569.51 710.4) rotate(-90) scale(1.04 1)">X03OR</text>
<text transform="translate(1583.92 710.4) rotate(-90) scale(1.04 1)">X22OR</text>
<text transform="translate(1598.34 710.4) rotate(-90) scale(1.04 1)">X15OR</text>
<text transform="translate(1612.74 710.4) rotate(-90) scale(1.04 1)">X04OR</text>
<text transform="translate(1627.15 710.4) rotate(-90) scale(1.04 1)">X01OR</text>
<text transform="translate(1641.57 710.4) rotate(-90) scale(1.04 1)">X20OR</text>
<text transform="translate(1655.97 710.4) rotate(-90) scale(1.04 1)">X12OR</text>
<text transform="translate(1670.38 710.4) rotate(-90) scale(1.04 1)">X09OR</text>
<text transform="translate(1684.80 710.4) rotate(-90) scale(1.04 1)">X10OR</text>
<text transform="translate(1699.20 710.4) rotate(-90) scale(1.04 1)">X17OR</text>
<text transform="translate(1713.62 710.4) rotate(-90) scale(1.04 1)">X08OR</text>
</g>
<defs><linearGradient id="ga" x1="0" y1="0" x2="0" y2="1"><stop offset="0" stop-color="#ff0000"/><stop offset="0.000" stop-color="#ff0000"/><stop offset="0.025" stop-color="#ff0000"/><stop offset="0.050" stop-color="#ff0000"/><stop offset="0.075" stop-color="#ff0000"/><stop offset="0.100" stop-color="#ff0000"/><stop offset="0.125" stop-color="#ff0501"/><stop offset="0.150" stop-color="#ff2e16"/><stop offset="0.175" stop-color="#ff4326"/><stop offset="0.200" stop-color="#ff5434"/><stop offset="0.225" stop-color="#ff6342"/><stop offset="0.250" stop-color="#ff714f"/><stop offset="0.275" stop-color="#ff7e5d"/><stop offset="0.300" stop-color="#ff8a6a"/><stop offset="0.325" stop-color="#ff9678"/><stop offset="0.350" stop-color="#ffa185"/><stop offset="0.375" stop-color="#ffad93"/><stop offset="0.400" stop-color="#ffb8a1"/><stop offset="0.425" stop-color="#ffc3af"/><stop offset="0.450" stop-color="#ffcebd"/><stop offset="0.475" stop-color="#ffd9cc"/><stop offset="0.500" stop-color="#ffe4da"/><stop offset="0.525" stop-color="#ffefe9"/><stop offset="0.550" stop-color="#fffaf8"/><stop offset="0.575" stop-color="#fbf8ff"/><stop offset="0.600" stop-color="#f3eaff"/><stop offset="0.625" stop-color="#ebddff"/><stop offset="0.650" stop-color="#e3d0ff"/><stop offset="0.675" stop-color="#dbc3ff"/><stop offset="0.700" stop-color="#d2b5ff"/><stop offset="0.725" stop-color="#c9a8ff"/><stop offset="0.750" stop-color="#bf9bff"/><stop offset="0.775" stop-color="#b58eff"/><stop offset="0.800" stop-color="#ab81ff"/><stop offset="0.825" stop-color="#a074ff"/><stop offset="0.850" stop-color="#9467ff"/><stop offset="0.875" stop-color="#875aff"/><stop offset="0.900" stop-color="#794cff"/><stop offset="0.925" stop-color="#683eff"/><stop offset="0.950" stop-color="#552fff"/><stop offset="0.975" stop-color="#3c1dff"/><stop offset="1.000" stop-color="#0000ff"/></linearGradient>
<linearGradient id="gb" x1="0" y1="0" x2="0" y2="1"><stop offset="0.00" stop-color="#ff4a2c"/><stop offset="0.10" stop-color="#ff7958"/><stop offset="0.20" stop-color="#ffa084"/><stop offset="0.30" stop-color="#ffc5b2"/><stop offset="0.40" stop-color="#ffe9e1"/><stop offset="0.50" stop-color="#f6eeff"/><stop offset="0.60" stop-color="#dbc3ff"/><stop offset="0.70" stop-color="#bd98ff"/><stop offset="0.80" stop-color="#9a6eff"/><stop offset="0.90" stop-color="#6d42ff"/><stop offset="1.00" stop-color="#0000ff"/></linearGradient></defs>
<text transform="translate(913.6 391.7) scale(1 1.09)" font-size="12.6" font-weight="700" fill="#1a1a1a">matrix_6</text>
<rect x="913.9" y="396.9" width="14.9" height="57.1" fill="url(#ga)"/>
<path d="M913.9 401.0h2.5M926.3 401.0h2.5" stroke="#fff" stroke-width="1"/>
<text transform="translate(931.5 405.6) scale(1 1.09)" font-size="12" fill="#1a1a1a">15</text>
<path d="M913.9 418.6h2.5M926.3 418.6h2.5" stroke="#fff" stroke-width="1"/>
<text transform="translate(931.5 423.2) scale(1 1.09)" font-size="12" fill="#1a1a1a">10</text>
<path d="M913.9 436.3h2.5M926.3 436.3h2.5" stroke="#fff" stroke-width="1"/>
<text transform="translate(931.5 440.9) scale(1 1.09)" font-size="12" fill="#1a1a1a">5</text>
<path d="M913.9 453.4h2.5M926.3 453.4h2.5" stroke="#fff" stroke-width="1"/>
<text transform="translate(931.5 458.0) scale(1 1.09)" font-size="12" fill="#1a1a1a">0</text>
<g filter="url(#bl)">
<text transform="translate(1890.5 383.6) scale(1 1.04)" font-size="10.2" font-weight="700" fill="#333">matrix_20</text>
<rect x="1890.4" y="386.3" width="12.2" height="59.7" fill="url(#gb)"/>
<text transform="translate(1905.3 393.1) scale(1 1.04)" font-size="10" fill="#333">4</text>
<text transform="translate(1905.3 407.6) scale(1 1.04)" font-size="10" fill="#333">3</text>
<text transform="translate(1905.3 421.4) scale(1 1.04)" font-size="10" fill="#333">2</text>
<text transform="translate(1905.3 435.2) scale(1 1.04)" font-size="10" fill="#333">1</text>
<text transform="translate(1905.3 449.6) scale(1 1.04)" font-size="10" fill="#333">0</text>
</g>
</svg>
</body></html>
